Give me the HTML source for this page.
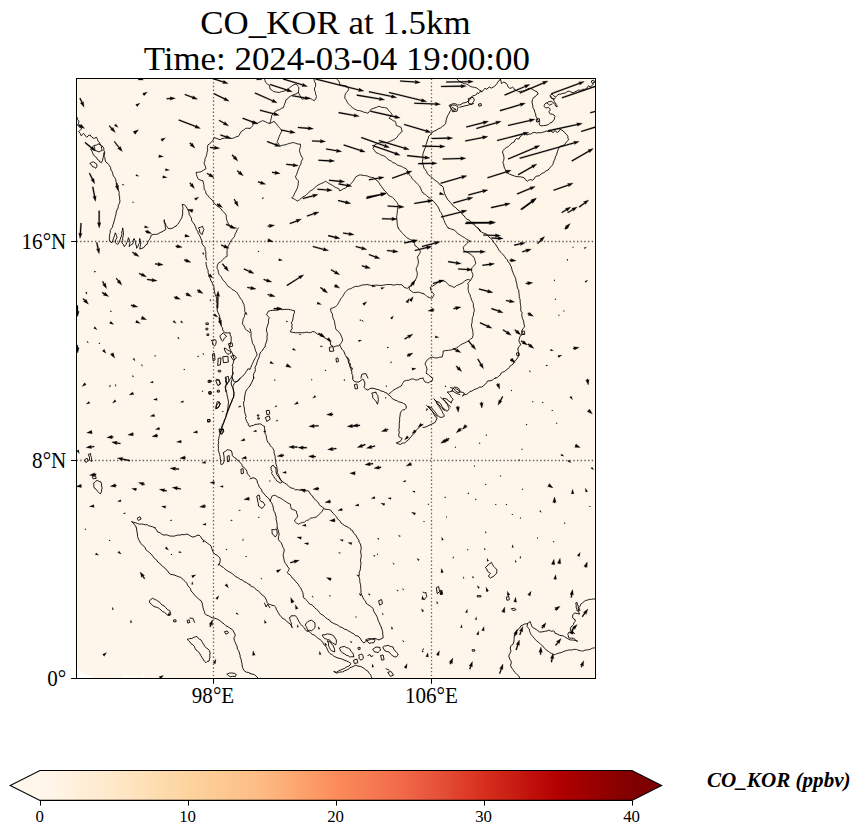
<!DOCTYPE html>
<html><head><meta charset="utf-8"><title>CO_KOR at 1.5km</title>
<style>
html,body{margin:0;padding:0;background:#fff;}
body{width:858px;height:836px;overflow:hidden;}
svg{display:block;}
text{font-family:"Liberation Serif","DejaVu Serif",serif;fill:#000;}
.t{font-size:34.2px;text-anchor:middle;}
.yl{font-size:22.2px;text-anchor:end;}
.xl{font-size:22.2px;text-anchor:middle;}
.cl{font-size:16.8px;text-anchor:middle;}
.cb{font-size:20.4px;font-weight:bold;font-style:italic;}
.coast path{fill:none;stroke:#000;stroke-width:0.9;stroke-linejoin:round;stroke-linecap:round;}
.bord path{fill:none;stroke:#000;stroke-width:0.85;stroke-linejoin:round;stroke-linecap:round;}
.grid line{stroke:#000;stroke-width:1.3;stroke-dasharray:1.39 2.29;opacity:.62;}
.q path{fill:#000;stroke:#000;stroke-width:0.28;stroke-linejoin:miter;stroke-miterlimit:6;}
.qs path{stroke-width:0.12;}
.tk line{stroke:#000;stroke-width:1.0;}
</style></head><body>
<svg width="858" height="836" viewBox="0 0 858 836">
<defs>
<clipPath id="ax"><rect x="76.5" y="78.5" width="519.0" height="600.0"/></clipPath>
<linearGradient id="cbg" x1="0" x2="1" y1="0" y2="0">
<stop offset="0.0000" stop-color="#fff7ec"/><stop offset="0.0250" stop-color="#fff4e5"/><stop offset="0.0500" stop-color="#fff1de"/><stop offset="0.0750" stop-color="#feeed7"/><stop offset="0.1000" stop-color="#feebd0"/><stop offset="0.1250" stop-color="#fee8c8"/><stop offset="0.1500" stop-color="#fee4c0"/><stop offset="0.1750" stop-color="#fee0b8"/><stop offset="0.2000" stop-color="#fddcaf"/><stop offset="0.2250" stop-color="#fdd8a7"/><stop offset="0.2500" stop-color="#fdd49e"/><stop offset="0.2750" stop-color="#fdcf99"/><stop offset="0.3000" stop-color="#fdca94"/><stop offset="0.3250" stop-color="#fdc58e"/><stop offset="0.3500" stop-color="#fdc089"/><stop offset="0.3750" stop-color="#fdba83"/><stop offset="0.4000" stop-color="#fdb27b"/><stop offset="0.4250" stop-color="#fda973"/><stop offset="0.4500" stop-color="#fc9f6a"/><stop offset="0.4750" stop-color="#fc9662"/><stop offset="0.5000" stop-color="#fc8c59"/><stop offset="0.5250" stop-color="#f98556"/><stop offset="0.5500" stop-color="#f77d52"/><stop offset="0.5750" stop-color="#f4754f"/><stop offset="0.6000" stop-color="#f26d4b"/><stop offset="0.6250" stop-color="#ef6447"/><stop offset="0.6500" stop-color="#ea5a3f"/><stop offset="0.6750" stop-color="#e55038"/><stop offset="0.7000" stop-color="#e0442f"/><stop offset="0.7250" stop-color="#dc3a27"/><stop offset="0.7500" stop-color="#d62f1e"/><stop offset="0.7750" stop-color="#cf2618"/><stop offset="0.8000" stop-color="#c91d13"/><stop offset="0.8250" stop-color="#c1120c"/><stop offset="0.8500" stop-color="#ba0906"/><stop offset="0.8750" stop-color="#b20000"/><stop offset="0.9000" stop-color="#a80000"/><stop offset="0.9250" stop-color="#9e0000"/><stop offset="0.9500" stop-color="#930000"/><stop offset="0.9750" stop-color="#890000"/><stop offset="1.0000" stop-color="#7f0000"/></linearGradient>
<radialGradient id="hz1" cx="0.82" cy="0.2" r="0.35"><stop offset="0" stop-color="#fdeedb" stop-opacity="0.18"/><stop offset="1" stop-color="#fdeedb" stop-opacity="0"/></radialGradient>
</defs>
<rect width="858" height="836" fill="#fff"/>
<text class="t" transform="translate(335.4 33.6) scale(1.02 1)">CO_KOR at 1.5km</text>
<text class="t" transform="translate(336.8 69.6) scale(1.02 1)">Time: 2024-03-04 19:00:00</text>
<rect x="76.5" y="78.5" width="519.0" height="600.0" fill="#fff6eb"/>
<rect x="76.5" y="78.5" width="519.0" height="600.0" fill="url(#hz1)"/>
<path d="M77 669.6L92 678L77 678Z" fill="white"/>
<path d="M123 675.3L138 677.5L123 677.5Z" fill="white"/>
<path d="M142 677.5L143.6 672.2L144.4 672.4L143.2 677.5Z" fill="white"/>
<g class="grid" clip-path="url(#ax)"><line x1="213.5" y1="78.5" x2="213.5" y2="678.5"/><line x1="431.5" y1="78.5" x2="431.5" y2="678.5"/><line x1="76.5" y1="241.5" x2="595.5" y2="241.5"/><line x1="76.5" y1="460.5" x2="595.5" y2="460.5"/></g>
<g class="coast" clip-path="url(#ax)">
<path d="M77.0 117.3L77.7 119.6L79.0 121.3L78.4 123.3L77.6 125.4L79.0 126.4L80.3 127.6L82.0 128.4L80.7 129.7L79.4 130.8"/>
<path d="M78.6 131.6L80.3 133.6L81.1 135.7L82.4 134.8L83.5 133.3L84.6 134.6L85.7 136.2L86.8 137.3L88.0 135.9L90.1 134.9L91.4 136.8L93.3 138.2L94.8 138.1L96.6 137.3L97.5 139.4L98.2 141.4L99.7 142.7L99.9 144.3L101.5 145.5L103.1 146.8L103.9 148.8L103.8 150.5L104.7 152.0L104.6 154.1L103.9 156.1L104.9 157.7L105.1 159.9L105.6 161.8L107.0 162.9L108.5 164.3L109.6 165.9L110.6 167.5L110.9 169.9L112.1 171.6L112.7 173.4L113.3 175.8L114.5 177.3L115.7 179.3L116.0 181.8L117.0 183.8L117.0 186.1L117.7 188.4L118.6 190.4L119.2 192.5L119.0 194.9L119.7 196.9L119.6 199.1L120.0 201.2L119.4 203.4L118.3 205.4L118.1 207.9L117.0 209.9L116.2 212.1L116.0 214.3L115.3 216.5L114.8 218.8L114.2 220.8L113.7 223.0L113.0 224.7L112.5 227.1L111.3 228.7L110.2 230.5L110.3 232.4L109.6 234.4L109.6 236.8L109.3 238.8L109.6 240.9L110.5 242.0L112.1 242.6L113.0 239.9L113.7 237.7L114.6 235.3L115.3 232.8L116.4 235.2L117.0 237.7L115.7 239.8L115.3 242.6L116.5 243.7L117.8 244.2L119.0 242.7L119.7 241.1L120.2 239.3L121.1 236.9L121.9 234.4L121.7 232.0L122.5 230.2L122.7 227.9L123.0 230.1L123.4 232.2L123.5 234.4L123.0 236.5L122.6 238.5L122.8 240.5L121.9 242.6L123.4 244.5L124.3 246.7L125.9 244.7L126.8 242.6L127.9 240.1L128.4 237.7L129.5 240.2L130.0 242.6L129.5 244.4L129.2 246.7L130.4 245.1L132.5 244.2L133.3 242.5L133.2 240.2L134.1 238.5L134.8 240.2L135.6 242.2L135.7 244.2L136.5 246.1L136.6 248.3L137.8 246.5L138.6 244.4L139.8 242.6L139.3 240.6L139.8 238.5L140.2 240.3L140.8 242.4L140.6 244.2L140.2 246.5L139.8 249.1L142.0 248.3L143.9 247.5L145.0 245.6L147.2 244.2L147.7 242.3L148.5 240.7L149.6 239.3L150.6 237.3L151.2 235.2L153.0 234.5L154.5 234.4L156.6 234.3L158.6 233.6L160.1 232.5L161.8 232.0L163.9 230.6L165.9 229.5L165.3 227.1L165.1 224.6L164.2 222.4L164.3 219.7L164.4 221.9L165.6 223.6L165.9 225.4L167.4 227.1L168.4 228.7L170.8 228.6L173.3 227.9L174.3 226.7L176.1 226.2L177.3 224.6L178.8 223.0L179.5 221.5L180.6 219.7L181.8 217.8L182.2 216.0L182.7 214.0L182.7 212.2L182.6 210.1L183.1 208.3L182.6 206.4L182.2 204.2L184.7 205.1L186.2 206.5L187.0 208.2L187.9 209.9L189.0 212.2L189.1 214.3L190.4 216.5L191.5 218.2L191.6 220.6L192.8 222.2L194.2 224.0L195.3 226.3L196.0 228.1L196.5 229.7L197.7 231.2L198.2 233.3L199.5 235.2L200.2 236.9L201.0 238.8L201.7 240.4L201.8 242.6L202.5 244.4L203.8 246.0L205.1 247.5L205.0 249.6L205.8 251.7L205.9 254.0L205.8 256.1L206.0 258.3L206.7 260.0"/>
<path d="M94.1 145.5L96.5 145.1L98.2 143.9L100.0 144.6L101.5 146.3L101.5 148.5L102.3 150.4L100.7 151.0L99.0 152.0L97.0 151.1L94.9 150.4L94.7 148.1Z"/>
<path d="M90.9 149.6L92.0 151.1L92.6 152.8L93.3 154.5L94.4 156.0L96.5 157.5L97.4 159.4L98.8 160.2L99.8 162.0L101.5 162.6L102.6 160.3L103.1 157.7L103.6 155.5L103.9 152.8"/>
<path d="M90.1 163.4L91.4 162.5L93.3 161.8L95.0 162.9L96.9 164.3L96.8 166.4L95.8 168.3L94.2 167.1L92.5 166.7L91.6 165.0Z"/>
<path d="M198.6 227.9L200.7 227.2L202.6 226.3L203.1 228.2L203.9 229.5L202.8 232.1L202.3 234.4L200.7 233.6L199.7 232.0L199.6 229.7Z"/>
<path d="M206.0 262.3L206.1 264.5L206.7 266.2L207.0 268.3L208.1 270.3L208.1 272.5L208.7 274.5L209.1 276.4L210.3 278.4L210.8 280.5L212.1 282.4L212.7 284.5L213.8 286.4L214.1 288.5L214.3 290.5L214.8 292.7L215.2 294.6L216.1 296.5L216.8 299.1L216.2 301.4L217.2 303.6L216.8 306.1L217.1 308.6L217.2 310.8L218.1 312.7L219.1 314.7L219.7 316.8L220.1 318.7L220.0 320.8L220.7 322.9L221.2 324.8L221.4 326.7L222.6 327.9L222.6 329.8L223.7 331.3L225.2 332.8L227.5 332.9L230.2 332.8L230.1 334.9L231.2 336.9L231.2 338.7L231.2 340.9L230.6 342.8L230.1 345.2L229.2 347.0L229.9 348.9L230.9 350.9L232.2 353.0L233.1 355.1L233.4 357.0L234.3 359.0L233.7 361.1L233.2 363.4L232.2 365.1L233.0 367.0L232.5 369.1L232.5 371.1L233.2 373.2L232.2 375.6L232.2 378.0"/>
<path d="M232.2 378.0L232.1 379.9L231.4 381.8L231.2 384.0L231.8 386.0L233.0 387.9L233.2 390.1L234.1 392.5L233.9 395.1L233.5 397.4L232.1 399.8L231.6 402.0L230.2 404.2L229.3 406.4L228.7 408.2L227.5 409.9L227.2 412.3L226.1 414.1L226.1 416.3L225.1 418.5L224.2 420.3L223.7 422.5L222.5 424.3L221.9 426.2L221.2 428.4L221.2 430.4L220.0 432.4L219.8 434.5L219.1 436.5L218.9 438.4L218.3 440.5L218.7 442.6L218.1 444.5L218.4 446.7L218.4 448.5L218.3 450.5L219.1 452.6L219.6 454.7L220.2 456.6L220.1 458.6L221.0 460.7L220.5 462.8L221.2 464.7L223.2 463.7L223.9 461.8L224.1 459.6L224.2 457.6L223.8 455.1L223.2 452.6L225.6 451.3L227.2 449.6L229.3 450.1L231.2 450.6L232.2 453.1L232.2 455.6L234.3 457.4L236.3 458.6L237.3 460.2L239.1 461.3L240.3 462.7L241.8 464.4L242.3 466.7L243.9 467.3L245.3 468.7L246.5 470.3L247.0 471.8L247.4 473.8L248.9 475.3L250.0 476.8"/>
<path d="M226.2 378.0L226.4 380.2L226.4 382.1L226.4 384.0L225.8 386.1L225.6 388.5L226.3 391.1L226.9 393.6L227.2 396.1L227.8 398.3L228.1 400.0L228.5 402.0L228.2 404.2L228.0 406.4L227.9 408.1L227.7 410.5L227.2 412.3"/>
<path d="M240.3 378.0L238.3 381.0L234.3 382.0L232.2 378.0"/>
<path d="M250.0 386.1L248.7 387.3L247.6 388.6L246.4 390.1L245.5 392.2L245.2 393.9L244.8 396.1L244.3 398.2L244.5 400.4L243.6 402.0L243.6 404.2L243.9 406.2L244.4 408.1L244.4 410.3L244.8 412.4L245.3 414.3L246.1 416.4L245.5 418.6L246.4 420.3L246.8 421.9L248.1 423.3L248.4 425.4L250.0 426.4"/>
<path d="M216.1 408.2L216.6 406.2L217.1 404.2L218.5 403.3L219.1 401.8L219.6 403.0L220.1 404.2L219.4 406.2L218.1 407.8Z"/>
<path d="M220.1 430.0L223.2 428.8L223.8 432.0L221.2 434.0Z"/>
<path d="M216.1 380.4L219.1 379.6L220.5 384.0L218.1 385.3Z"/>
<path d="M208.5 380.4L210.1 380.4L210.1 382.4L208.5 382.4Z"/>
<path d="M209.3 391.7L210.9 391.7L210.9 393.7L209.3 393.7Z"/>
<path d="M208.2 419.5L209.9 419.5L209.9 421.5L208.2 421.5Z"/>
<path d="M227.6 456.2L229.2 455.6L229.4 461.1L227.8 461.7Z"/>
<path d="M241.3 469.1L243.1 468.7L243.5 473.2L241.7 473.8Z"/>
<path d="M84.7 459.7L87.1 458.2L88.1 460.7L86.1 462.3Z"/>
<path d="M88.7 454.2L90.7 453.6L90.7 455.8L91.5 457.6L91.6 459.6L92.1 461.1L90.7 460.9L89.5 460.3L89.7 458.0L89.1 456.4Z"/>
<path d="M94.1 482.8L95.5 481.3L97.2 480.4L98.9 481.3L100.8 481.8L101.6 483.9L101.4 485.9L102.2 487.9L101.6 489.8L101.4 492.0L100.2 493.9L98.9 492.5L97.2 490.9L96.0 489.2L94.1 487.9L93.8 485.6Z"/>
<path d="M92.7 476.4L95.5 475.6L96.2 478.4L93.5 478.8Z"/>
<path d="M136.3 528.0L135.7 526.0L134.5 524.8L133.4 523.0L131.4 521.5L133.4 522.2L135.5 522.8L137.3 523.4L139.5 524.2L141.5 524.0L143.5 524.3L145.5 524.8L147.2 524.7L148.8 525.9L150.6 526.2L152.4 526.8L153.8 527.2L155.6 528.0"/>
<path d="M137.5 518.1L139.9 516.7L141.1 519.1L138.7 520.3Z"/>
<path d="M233.7 396.4L227.9 411.4L222.6 426.1L220.7 432.6"/>
<path d="M219.4 429.0L223.4 429.6L221.8 434.2L219.9 432.6Z"/>
<path d="M254.0 377.4L252.0 382.0L249.7 386.2"/>
<path d="M232.7 372.2L232.6 374.6L231.6 377.1L230.4 378.6L229.2 380.4L228.3 382.2L226.7 383.6L226.0 385.2L225.1 386.9L225.6 389.5L225.9 391.8"/>
<path d="M220.2 335.5L221.8 334.2L223.4 332.7L224.7 334.7L226.7 336.3L225.5 337.2L224.3 338.3L223.4 340.0L222.6 341.2L221.5 340.2L221.0 338.8L220.3 337.3Z"/>
<path d="M211.5 340.4L213.3 340.0L215.3 339.6L216.2 341.2L216.1 342.8L215.6 344.5L214.5 346.1L213.4 345.2L212.5 344.1L212.6 342.2Z"/>
<path d="M224.6 348.1L226.2 348.6L227.5 350.2L229.3 350.9L230.8 351.8L230.4 353.1L229.2 354.3L227.3 353.7L225.9 352.6L224.8 350.4Z"/>
<path d="M228.8 343.7L232.1 342.8L232.7 346.1L230.0 346.9Z"/>
<path d="M223.1 356.7L227.9 356.2L228.3 362.1L223.9 362.7Z"/>
<path d="M218.6 358.3L221.0 357.9L220.3 364.9L218.1 365.4Z"/>
<path d="M231.1 356.2L234.1 355.1L236.5 357.9L233.7 360.0Z"/>
<path d="M212.8 353.9L214.5 353.4L215.0 360.0L213.5 360.8Z"/>
<path d="M225.6 377.1L226.8 376.9L228.3 376.3L228.6 378.9L229.2 381.2L227.9 382.6L227.2 384.4L226.5 383.2L225.6 382.0L225.6 379.7Z"/>
<path d="M216.1 379.1L219.0 380.4L220.2 384.0L218.6 385.6"/>
<path d="M217.7 401.6L219.1 402.1L220.2 403.2L219.4 405.4L218.1 407.3L216.8 408.1L215.8 408.9L215.8 406.9L216.4 404.8L216.8 403.0Z"/>
<path d="M209.3 391.8L211.2 391.8L211.2 394.2L209.3 394.2Z"/>
<path d="M207.9 419.5L209.9 419.5L209.9 422.0L207.9 422.0Z"/>
<path d="M217.7 390.2L219.4 390.2L219.4 392.1L217.7 392.1Z"/>
<path d="M218.6 370.3L220.7 370.3L220.7 371.9L218.6 371.9Z"/>
<path d="M209.6 380.4L211.2 380.4L211.2 382.0L209.6 382.0Z"/>
<path d="M206.3 322.9L208.3 322.9L208.3 324.6L206.3 324.6Z"/>
<path d="M207.3 333.9L208.8 333.9L208.8 335.5L207.3 335.5Z"/>
<path d="M206.3 328.2L207.9 328.2L207.9 329.8L206.3 329.8Z"/>
<path d="M136.5 528.0L136.7 529.9L136.9 532.0L137.5 534.0L137.5 536.5L138.5 539.1L139.5 541.1L140.8 543.5L142.5 545.1L144.2 546.4L145.3 548.0L145.9 549.8L147.6 551.2L149.2 552.3L150.9 553.9L152.2 555.3L153.6 557.2L154.9 558.8L156.7 560.1L157.8 562.0L159.7 563.3L161.2 565.0L162.6 566.3L164.5 567.6L165.7 569.3L167.6 570.7L168.9 573.0L170.8 574.4L172.8 574.7L174.8 575.2L176.8 576.0L178.3 576.7L180.2 577.1L181.8 578.4L183.7 580.0L185.3 581.6L186.9 583.4L187.7 585.5L189.1 587.1L190.4 588.5L190.9 590.5L192.0 592.1L193.4 593.4L194.4 595.1L196.0 596.5L197.7 598.0L199.2 599.6L201.0 600.6L202.0 602.7L202.6 605.4L203.0 607.6L203.6 609.8L204.4 611.7L205.0 613.7L206.4 615.1L208.5 615.7L210.1 616.7L212.1 617.8L213.9 618.0L216.1 618.7L218.2 619.6L220.5 621.0L222.2 622.8L224.1 623.9L226.0 625.8L228.2 626.8L230.0 628.2L231.8 629.1L233.2 630.8L234.2 632.9L235.3 634.9L234.8 636.6L233.9 637.9L234.4 640.6L235.3 642.5L236.3 644.9L237.2 646.7L237.3 649.1L238.7 650.7L239.3 653.0L240.1 655.2L240.1 656.9L241.1 659.2L241.3 661.1L242.0 663.1L242.1 665.0L242.5 667.4L243.3 669.1L244.4 670.9L246.4 672.2L248.2 672.4L250.0 673.2"/>
<path d="M154.6 528.0L156.5 529.7L157.6 532.0L160.0 532.7L161.5 534.0L163.7 535.1L165.9 534.8L167.9 535.2L169.7 536.0L171.8 536.1L173.9 536.2L175.8 535.6L177.6 535.1L179.8 535.1L182.1 534.6L184.5 534.7L186.9 534.0L189.1 535.0L190.9 536.2L192.9 537.1L195.2 536.5L197.0 535.4L199.0 535.1L200.8 536.7L202.0 539.1L203.9 540.6L206.0 542.1L207.6 543.4L209.5 544.6L211.1 546.1L211.7 548.3L212.4 550.1L213.1 552.2L214.9 554.2L217.1 555.2L218.6 556.8L220.1 558.2L220.2 560.2L219.9 562.5L219.1 564.3L220.8 566.0L223.2 567.3L224.7 568.8L226.4 570.1L228.2 571.3L230.2 572.4L232.4 573.7L234.3 575.4L236.0 576.8L238.5 578.1L240.3 579.4L242.5 580.0L244.2 581.8L246.4 582.4L248.0 583.9L250.0 584.5"/>
<path d="M149.6 600.6L151.0 599.4L152.6 598.2L154.5 599.3L156.6 600.2L158.2 601.4L159.6 602.1L160.7 603.6L162.1 605.0L164.4 606.1L165.7 607.6L167.3 609.5L169.7 610.7L170.6 612.8L170.8 614.7L169.2 615.1L167.7 615.1L166.1 613.8L164.5 612.3L162.7 611.7L161.0 610.1L159.5 608.7L157.6 607.6L156.0 607.1L154.0 606.5L152.6 605.6L151.6 604.3L150.0 603.0Z"/>
<path d="M187.5 639.3L189.7 638.6L191.9 638.5L193.6 637.4L195.2 636.9L197.0 636.5L198.0 637.9L199.4 639.2L201.0 639.9L202.0 641.7L202.9 643.3L204.0 644.9L204.9 646.6L206.4 648.1L208.0 649.0L209.5 650.7L210.1 653.0L209.8 655.2L209.9 657.1L209.4 659.2L209.1 661.1L207.2 661.5L206.0 662.7L204.2 661.0L203.0 659.0L201.9 657.3L200.9 655.6L200.0 654.0L198.9 652.2L197.5 651.0L196.0 650.0L195.1 648.4L194.4 646.4L192.9 644.9L191.1 643.8L189.9 641.9L188.7 640.8Z"/>
<path d="M187.5 620.3L189.1 619.9L189.9 622.4L188.1 623.0Z"/>
<path d="M189.9 618.1L192.9 618.3L194.5 622.4"/>
<path d="M224.8 631.6L227.2 631.0L228.6 632.8L226.2 634.0Z"/>
<path d="M227.2 674.0L229.6 673.0L231.8 673.0L234.3 673.3L236.3 674.4L235.3 676.6L232.6 676.3L230.2 676.8L228.6 675.6Z"/>
<path d="M174.0 619.9L176.0 619.9L176.0 621.8L174.0 621.8Z"/>
<path d="M253.6 378.0L253.4 375.7L253.7 373.6L255.0 371.6L255.3 369.3L255.0 367.1L256.2 365.1L257.0 362.5L257.7 360.1L258.9 357.8L259.5 355.4L260.1 353.0L261.5 351.4L262.7 350.0L263.6 348.2L265.1 347.0L265.3 344.8L266.1 342.8L266.7 341.0L267.1 338.9L267.0 336.5L267.4 333.7L266.6 331.5L266.5 328.8L267.2 326.7L267.9 324.6L268.5 322.8L268.4 320.2L269.2 317.7L268.0 316.3L266.5 314.7L267.5 312.8L268.5 311.1L270.6 310.6L272.2 310.4L274.2 310.3L276.1 310.2L278.1 309.9L280.3 309.3L282.3 309.7L284.1 309.4L286.3 309.4L288.4 309.3L290.3 309.7L292.5 310.4L294.4 310.7L294.5 312.7L293.5 314.8L293.3 316.7L292.9 319.0L292.5 320.9L291.3 322.8L292.2 324.5L291.8 326.8L292.3 328.8L290.8 330.2L290.3 331.8L292.9 332.3L295.4 332.8L297.6 332.7L300.2 332.7L302.4 332.8L304.6 332.6L306.3 332.2L308.5 332.4L310.4 332.8L312.6 331.6L314.5 331.8L316.2 333.2L317.5 334.1L319.6 334.9L321.2 336.0L323.1 336.7L324.6 337.9L326.3 338.7L328.0 339.8L329.6 340.9L330.5 342.9L330.6 344.9L332.2 345.8L333.7 347.0L335.2 346.4L336.7 345.9L338.5 345.9L339.7 344.9L340.6 346.8L341.7 349.0L343.2 350.5L344.2 352.0L344.8 354.0L345.6 355.5L346.7 357.6L347.8 359.0L348.3 361.2L348.9 363.2L349.8 365.1L350.9 366.7L350.9 369.3L351.8 371.1L351.8 373.6L352.7 375.5L352.8 378.0"/>
<path d="M329.6 347.4L332.7 346.5L333.9 351.0L330.2 351.4Z"/>
<path d="M336.3 358.4L337.9 358.0L338.5 361.5L336.9 362.1Z"/>
<path d="M347.2 357.0L348.4 358.5L349.2 360.1L349.0 361.6L348.4 362.7L349.6 363.3L350.8 364.1L349.8 365.6L349.8 367.1L351.0 368.0L352.4 368.1L352.1 369.5L351.2 370.7"/>
<path d="M360.9 378.0L361.9 374.2L365.9 373.6L367.9 378.0"/>
<path d="M352.8 378.0L352.8 379.5L353.8 381.0L356.1 382.0L358.9 382.0L361.0 380.4L362.9 379.0L364.1 381.0L364.9 383.0L364.7 385.3L363.9 387.1L365.5 388.9L367.9 390.1L369.8 388.7L372.0 388.1L374.1 388.6L376.0 389.1L377.8 389.6L379.4 390.0L381.0 391.1L383.2 391.3L385.1 392.5L387.1 393.1L388.0 394.7L389.9 395.7L391.1 397.2L392.8 399.0L395.2 400.2L396.9 400.6L398.4 401.7L400.2 402.2L402.1 402.6L403.6 403.6L405.2 404.2L406.2 406.0L406.2 408.2L404.8 409.6L402.5 410.0L401.2 411.3L400.3 413.5L400.0 416.1L399.6 418.3L399.7 420.8L399.2 423.3L399.3 425.8L399.2 428.4L398.7 430.4L399.4 432.2L398.7 434.3L398.8 436.5L400.3 437.6L402.2 438.5L401.2 439.9L400.2 441.5L398.3 442.0L396.2 442.9L398.3 443.7L400.2 444.5L402.3 443.2L404.7 442.9L406.2 441.5L408.4 440.0L409.8 438.1L411.3 436.5L412.4 434.9L414.5 433.3L415.3 431.4L416.4 429.9L417.9 428.5L419.4 427.4L421.0 425.5L423.0 424.4"/>
<path d="M372.0 393.1L373.9 392.6L376.0 392.1L376.3 394.0L377.8 395.4L378.0 397.2L378.3 399.4L378.1 402.0L377.4 404.2L376.5 402.0L375.0 400.2L373.5 398.7L372.6 397.2L372.7 395.2Z"/>
<path d="M354.8 384.5L356.9 384.0L357.7 388.5L355.6 388.9Z"/>
<path d="M250.0 426.4L251.6 425.7L253.5 425.4L255.0 424.4L257.1 424.3L259.1 423.9L261.1 424.0L262.4 425.4L264.5 426.4L264.6 428.6L264.8 431.2L265.1 433.4L266.2 435.5L266.5 438.3L267.1 440.5L267.9 442.5L269.5 443.6L270.2 445.5L271.6 447.1L273.2 448.6L274.0 450.7L274.0 452.6L274.7 454.7L275.2 456.6L275.2 458.8L275.9 460.8L275.7 462.6L276.2 464.7L276.8 466.6L277.0 468.9L277.5 470.8L277.2 472.8L278.6 474.7L279.2 476.6L280.2 478.8L281.2 480.5L282.5 481.8L284.3 482.8L286.2 484.0L287.9 485.3L289.3 486.9L291.3 488.1L293.7 488.4L295.4 489.9L297.7 489.6L300.2 490.3L302.4 489.9L304.3 489.8L306.4 490.8L308.5 490.9L309.7 492.8L310.8 494.7L312.5 495.9L313.5 498.1L315.1 499.3L316.5 501.0L318.3 502.5L319.2 504.3L320.6 506.0L322.7 507.3L324.6 509.0L326.7 509.4L328.5 509.5L330.6 510.1L332.0 512.0L333.4 513.6L334.7 515.1L336.4 516.7L337.2 518.3L338.7 520.1L340.4 521.3L341.0 523.0L342.7 524.2L344.8 525.7L347.0 526.6L348.8 528.0"/>
<path d="M265.7 417.3L269.2 415.9L270.2 419.3L267.1 421.3Z"/>
<path d="M266.5 410.7L269.2 410.3L269.8 413.9L267.3 414.7Z"/>
<path d="M257.7 414.9L258.9 414.9L258.9 416.1L257.7 416.1Z"/>
<path d="M258.1 417.9L259.3 417.9L259.3 419.1L258.1 419.1Z"/>
<path d="M271.2 466.7L273.2 465.1L274.1 466.7L275.8 467.7L276.0 470.1L276.2 472.8L276.7 474.6L278.1 476.3L279.2 477.8L280.5 479.9L282.3 481.8L280.2 483.2L278.8 482.2L277.3 481.4L276.2 479.8L274.7 478.2L273.8 476.6L272.6 474.8L271.6 473.3L272.2 471.5L271.2 469.7L271.1 468.1Z"/>
<path d="M250.0 478.8L252.0 478.1L254.0 477.8L256.1 479.1L257.1 480.8L257.5 483.2L258.6 484.6L259.1 486.9L260.4 488.2L261.6 490.0L262.1 491.9L264.0 493.6L265.2 495.4L267.1 497.0L268.9 498.7L270.2 501.0L271.7 502.8L272.4 504.7L273.2 507.0L273.4 509.2L274.1 511.4L275.2 513.1L275.4 515.0L276.3 516.9L276.0 519.2L276.6 521.1L277.0 523.2L277.2 525.7L277.2 528.0"/>
<path d="M257.1 495.9L259.1 494.9L259.8 497.4L259.7 500.0L261.1 501.4L263.1 502.0L264.0 503.5L265.1 505.0L263.4 506.7L262.1 508.6L260.2 507.1L258.5 506.0L258.3 503.5L257.7 501.0L257.2 498.4Z"/>
<path d="M277.2 528.0L278.1 529.9L278.5 532.0L279.2 534.0L278.6 536.5L278.2 539.1L279.5 541.0L281.2 542.8L282.3 545.1L282.6 546.7L283.7 548.4L284.3 550.2L283.9 552.2L283.2 554.3L283.3 556.2L283.8 558.5L284.3 561.2L285.3 563.3L286.7 565.0L287.8 567.1L289.3 568.3L288.6 570.4L287.3 572.4L288.3 573.9L290.0 574.7L291.3 576.4L292.4 578.2L294.3 579.6L295.4 581.4L297.1 582.9L298.5 584.7L299.4 586.5L300.8 588.1L301.8 590.6L302.8 592.5L303.2 595.1L303.4 597.6L305.4 599.1L307.0 600.7L308.5 602.6L309.7 604.1L311.9 604.8L313.3 606.0L314.5 607.6L316.3 609.2L318.3 610.8L319.6 612.7L320.9 614.2L322.7 615.0L324.2 616.2L325.6 617.7L327.5 619.0L329.5 620.0L330.7 621.9L332.7 622.8L334.2 623.7L336.2 624.4L338.3 625.5L339.7 626.8L342.3 627.5L344.3 629.1L346.8 629.8L348.5 631.0L350.3 632.0L351.9 632.9L353.8 633.8L355.4 635.6L358.0 636.1L359.9 637.9L361.1 639.9L362.0 641.4L363.9 642.9L365.6 641.7L367.0 640.6L369.0 639.9L370.6 639.5L372.2 638.7L374.0 638.5L375.9 638.6L377.2 639.4L379.0 639.9L381.0 638.9L383.1 637.9L383.1 636.0L382.7 634.0L382.7 631.8L381.9 629.4L381.2 627.0L380.0 624.8L379.3 622.7L378.3 620.8L377.7 618.8L377.0 616.7L376.0 614.9L374.7 612.8L373.6 610.9L373.0 608.6L371.5 607.0L369.9 605.8L367.9 604.6L366.2 603.3L365.5 601.1L363.9 599.6L362.7 597.1L361.7 594.8L360.9 592.5L361.0 590.6L360.8 588.4L360.7 586.4L360.5 584.5L359.9 582.4L359.8 580.3L359.5 578.3L358.9 576.4L359.3 574.5L359.2 572.3L360.1 570.4L360.5 568.3L360.6 565.6L361.1 563.1L360.4 560.9L360.9 558.2L361.4 555.6L360.8 553.1L360.7 550.7L361.3 548.2L360.8 546.1L360.5 544.1L359.1 542.2L358.9 540.1L357.3 538.1L356.4 536.1L354.8 534.0L353.4 532.9L352.8 530.8L350.8 529.8L349.8 528.0"/>
<path d="M272.2 529.6L274.3 529.7L276.2 529.0L277.1 531.3L277.2 534.0L276.3 535.8L275.2 537.1L274.1 535.3L272.2 534.0L272.1 531.8Z"/>
<path d="M250.0 585.5L251.7 586.4L253.7 587.1L255.0 588.5L256.7 590.0L258.5 591.2L260.1 592.5L261.5 594.6L263.7 595.9L265.1 597.6L265.9 599.0L266.7 600.8L267.1 602.6L268.4 603.9L270.2 604.6L272.0 605.3L274.2 605.6L275.8 607.2L276.1 609.0L277.2 610.7L278.3 612.7L279.5 614.9L281.2 616.7L282.5 618.4L284.6 619.3L286.3 620.7L287.7 622.4L289.9 623.7L291.3 625.8L292.3 627.8L291.3 625.2L291.3 622.8L290.3 621.3L290.1 619.5L289.3 617.7L290.6 617.1L291.3 615.7L293.2 615.8L295.4 615.7L296.9 617.6L298.0 619.7L299.0 621.6L300.0 623.5L301.4 624.8L302.7 626.3L304.5 628.0L305.4 629.8L306.9 631.3L309.0 631.3L310.5 632.8L312.2 634.3L314.6 635.3L316.5 636.9L318.2 638.5L319.9 639.4L321.6 640.9L322.9 642.6L323.7 644.5L325.6 645.9L326.7 647.8L327.7 650.1L328.6 652.0L330.1 653.6L332.1 654.6L333.7 656.0L335.9 657.2L338.0 658.1L340.7 658.6L342.9 659.5L344.9 660.4L346.8 661.1L349.1 662.2L350.8 663.5L350.1 665.0L348.8 666.1L346.5 667.0L344.7 668.3L342.7 669.1L340.6 670.0L338.6 670.8L336.7 672.2L335.0 672.0L333.7 671.5L335.1 672.1L336.7 673.2L338.6 672.3L340.6 672.0L342.7 671.9L344.8 670.7L346.6 670.1L348.6 669.2L349.7 667.8L351.8 667.1L354.0 666.1L355.8 665.1L357.8 666.1L360.2 666.3L361.9 667.1L364.1 668.4L365.8 669.9L367.9 671.1L369.3 673.4L371.0 675.2L371.1 676.7L372.0 678.0"/>
<path d="M305.4 624.8L306.4 623.0L307.5 621.8L309.3 620.8L311.5 620.3L313.2 621.4L314.9 622.8L315.1 625.4L314.9 627.8L313.4 629.2L311.5 630.8L309.6 630.3L307.5 630.4L307.2 628.6L306.3 626.6Z"/>
<path d="M322.6 634.9L325.1 634.7L327.6 633.8L329.9 634.3L331.8 634.8L333.7 635.9L335.0 638.0L336.3 639.9L336.4 642.5L335.7 644.9L334.0 643.8L332.7 642.9L330.6 641.6L329.6 639.9L327.7 639.7L326.1 638.9L324.6 638.5L323.3 636.9Z"/>
<path d="M327.6 640.9L328.9 641.7L330.6 641.9L331.3 643.9L332.9 645.1L333.7 647.0L334.6 649.2L334.7 652.0L333.1 651.3L331.7 651.0L330.3 649.4L329.5 647.7L328.6 645.9L328.5 643.5Z"/>
<path d="M339.7 648.0L341.2 647.1L342.9 646.7L344.8 646.5L346.2 647.5L348.1 648.0L349.8 649.0L350.9 651.3L352.8 653.0L353.5 654.9L353.8 657.0L351.9 656.7L349.8 657.0L348.3 655.8L346.2 655.2L344.8 654.0L342.3 652.8L340.7 651.0L340.0 649.4Z"/>
<path d="M353.8 660.1L356.9 659.0L357.9 662.7L354.8 663.5Z"/>
<path d="M373.0 649.0L374.5 648.0L376.0 647.0L378.0 647.2L380.0 647.4L380.0 648.6L380.6 650.0L379.3 651.4L378.0 652.6L376.2 652.1L374.6 652.0L373.6 650.6Z"/>
<path d="M383.1 647.0L384.6 646.0L386.6 645.8L388.1 645.3L389.8 646.2L391.3 646.6L393.1 647.0L393.7 649.1L395.2 651.0L396.5 652.4L398.2 654.0L397.3 655.8L396.2 657.0L394.2 656.7L392.1 655.4L390.5 653.9L389.1 652.0L387.1 651.5L385.1 651.0L383.9 649.3Z"/>
<path d="M358.9 655.0L360.5 654.5L361.9 654.0L363.0 655.8L363.3 658.0L362.4 659.5L360.9 660.1L359.7 659.3L358.9 658.0L359.2 656.7Z"/>
<path d="M367.9 655.4L370.0 654.6L371.0 656.6L373.0 655.8"/>
<path d="M381.0 655.4L383.1 655.0L384.1 659.5L382.1 660.1Z"/>
<path d="M358.5 647.4L360.1 647.4L360.1 649.4L358.5 649.4Z"/>
<path d="M365.9 639.9L367.7 638.9L370.0 638.5L372.4 639.3L375.0 639.3L374.7 640.9L374.0 642.5L371.5 642.9L369.0 643.3L367.7 641.6Z"/>
<path d="M388.1 672.2L391.1 671.5L393.5 675.2L390.7 676.2Z"/>
<path d="M386.1 668.7L389.1 670.1"/>
<path d="M379.0 600.6L381.5 599.6L382.5 603.6L380.0 605.0Z"/>
<path d="M250.0 673.6L254.4 674.6L258.1 678.0"/>
<path d="M264.5 603.0L266.1 607.0L267.7 604.2L269.8 607.8"/>
<path d="M502.8 151.1L502.7 153.1L503.5 154.9L503.9 156.8L504.0 158.7L503.6 160.5L502.8 162.5L503.7 164.1L503.9 166.2L504.6 168.2L505.4 169.8L506.1 171.6L507.4 172.8L509.6 174.2L511.9 175.1L514.3 175.9L516.2 176.6L518.8 176.7L520.6 176.9L522.8 177.3L524.5 178.0L525.5 179.8L527.5 181.2L528.6 180.2L529.7 179.9L531.0 179.6L532.5 180.3L533.9 179.2L534.8 177.4L536.9 176.0L539.3 175.8L541.2 173.9L542.4 173.1L543.9 172.8L545.8 171.0L548.2 170.0L549.6 168.2L551.2 166.4L552.6 164.8L553.2 163.5L553.5 162.1L554.3 160.3L555.1 158.8L555.3 156.8L556.6 154.9L557.0 153.0L557.6 151.1L558.6 148.5L559.9 146.5L561.1 146.0L562.6 145.6L564.5 144.7L565.6 143.1L566.9 141.5L568.6 139.7L567.8 137.8L567.9 136.3L566.7 134.6L564.7 132.8L563.3 131.0L561.7 130.0L559.9 129.4L559.0 131.2L557.6 132.4L556.3 132.0L555.3 130.5L554.1 131.4L553.0 132.8L552.3 131.6L550.8 131.2L548.5 131.6L546.2 131.0L544.2 131.9L542.5 132.3L540.5 132.8L538.7 132.6L536.8 133.1L534.8 132.4L532.8 132.7L530.9 134.0L529.1 134.0L526.8 135.1L525.7 133.9L524.5 132.8L522.9 134.5L521.7 135.5L519.9 136.9L518.8 139.2L516.5 138.5L515.0 140.0L514.2 142.0L512.5 142.7L511.0 143.7L509.6 145.4L508.4 146.5L506.5 147.5L505.1 148.4L503.9 149.7Z"/>
<path d="M500.5 79.1L501.0 81.3L501.6 83.7L502.6 82.7L503.9 82.1L506.0 83.1L507.4 84.9L508.1 86.8L509.6 88.3L511.3 88.0L512.4 87.1L513.6 87.8L514.2 89.4L516.7 90.6L518.8 91.7L520.8 91.2L522.4 91.2L524.5 90.6L526.8 89.4L529.1 88.3L530.7 88.4L532.5 89.4L534.6 90.7L537.0 91.7L538.2 94.0L536.6 94.9L535.5 96.6L533.6 97.4L532.5 99.5L532.0 102.0L532.3 104.0L532.9 105.9L532.9 107.7L534.3 109.8L534.8 112.3L535.7 113.9L535.8 116.1L537.0 118.0L537.9 120.4L539.3 122.5L539.2 124.1L540.0 125.1"/>
<path d="M536.6 119.1L539.3 118.7L539.8 121.4L537.0 121.9Z"/>
<path d="M432.0 132.4L434.4 131.0L436.5 130.1L438.3 128.8L440.6 127.9L442.3 126.4L443.9 125.4L445.7 123.7L445.9 121.8L446.2 119.9L446.8 118.0L447.7 115.6L449.1 113.4L449.8 111.4L451.4 110.0L450.7 107.5L449.1 105.4L451.4 104.3L453.7 103.6L455.8 103.9L457.5 104.9L459.4 105.0L461.1 104.3L463.0 103.0L465.1 102.7L466.9 102.1L468.5 100.8L470.1 99.4L470.8 97.4L472.9 95.9L475.4 95.1L476.6 94.4L477.2 92.8L478.8 93.5L480.0 92.2L480.4 90.6L482.2 91.7L483.5 89.7L485.0 88.3L486.8 89.4L487.9 88.0L489.5 87.1L491.4 88.1L492.9 87.3L494.6 86.3L495.9 84.9L497.2 83.2L498.2 81.4L500.0 79.8L500.5 79.1"/>
<path d="M450.3 105.9L452.6 105.1L454.8 105.0L456.7 106.1L458.2 107.2L457.4 109.1L457.1 111.1L455.0 111.4L452.5 111.8L452.1 109.5L450.9 108.1Z"/>
<path d="M452.1 107.2L456.0 109.5L453.0 110.4"/>
<path d="M468.5 98.6L470.7 97.9L473.1 97.4L474.0 98.9L474.2 100.8L472.9 102.3L472.0 104.3L470.1 103.8L468.5 103.1L468.6 100.6Z"/>
<path d="M459.8 107.2L468.5 105.0L473.5 103.6"/>
<path d="M478.8 104.0L481.1 103.6L481.5 105.6L479.3 106.1Z"/>
<path d="M432.0 132.4L430.5 134.6L428.6 136.2L428.3 138.3L427.4 140.0L427.0 142.0L426.1 144.2L425.9 146.7L424.7 148.8L423.9 151.1L423.0 153.4L422.8 155.7L422.8 157.5L422.9 159.6L422.4 161.4L422.7 163.7L423.5 165.9L424.0 168.2L425.4 169.8L426.6 171.5L427.3 173.5L428.6 175.1L430.5 176.3L432.5 178.0L434.3 179.6L435.9 180.9L437.3 181.8L438.8 183.1L439.9 184.8L442.1 185.9L443.4 187.6L443.6 189.5L444.1 191.4L444.5 193.3L445.6 195.9L446.8 197.9L447.7 199.7L449.3 201.1L450.3 202.5L451.8 203.9L452.9 205.7L454.7 206.8L456.0 208.2L457.9 209.9L459.7 211.4L461.7 212.8L462.4 214.6L464.2 215.9L465.1 217.3L466.6 219.1L469.3 220.1L470.8 221.9L472.2 223.6L474.5 224.6L475.5 226.5L477.7 227.6L479.1 229.1L480.4 230.6"/>
<path d="M540.0 125.2L541.7 125.9L543.6 125.6L546.1 125.3L548.4 124.6L549.8 123.2L552.0 122.2L553.1 120.9L554.4 119.2L554.6 117.5L555.0 116.2L554.1 115.1L552.6 114.4L550.2 113.8L549.2 112.9L549.0 111.4L549.8 110.6L550.2 109.0L548.4 107.2L547.1 107.8L545.4 107.8L544.4 106.8L544.2 105.5L544.8 104.1L546.0 103.1L547.4 102.6L548.4 101.9L550.0 101.5L551.4 101.3L552.6 102.3L553.8 103.1L554.9 104.4L555.6 106.1L557.3 106.7L556.7 105.2L556.1 104.3L555.4 103.0L554.4 101.9L553.8 100.5L553.8 98.9L551.4 98.3L550.4 96.7L550.2 95.3L552.0 94.1L553.8 95.9L555.6 97.1L557.3 95.3L559.1 94.1L560.9 94.2L562.1 93.5L564.0 93.2L565.7 92.9L566.8 91.9L568.1 91.3L569.7 91.3L571.1 92.1L573.5 92.9L574.4 92.0L575.9 91.3L577.2 91.1L578.3 89.9L579.8 90.4L581.3 90.1L582.6 89.3L584.3 89.3L585.9 89.1L586.7 88.1L587.7 86.9L588.4 85.7L590.2 86.9L592.0 85.7L592.8 84.7L593.2 83.3L594.4 82.1L595.3 81.5"/>
<path d="M591.7 80.9L593.6 80.1L594.5 82.1L592.6 83.3Z"/>
<path d="M550.5 95.9L553.2 99.5L555.3 98.0"/>
<path d="M547.2 103.1L549.6 105.2L552.0 104.0"/>
<path d="M477.4 228.0L479.0 229.2L479.8 231.1L481.5 232.0L483.4 233.0L485.9 233.8L487.5 235.1L488.9 236.9L490.9 238.6L492.6 240.1L493.5 242.3L495.3 243.9L496.6 246.1L498.0 248.4L499.0 250.2L500.6 252.2L501.9 253.5L503.4 255.0L504.6 256.4L505.7 258.2L507.2 259.7L508.0 261.8L509.7 263.3L510.2 265.0L511.2 266.5L511.7 268.3L512.2 270.6L513.0 272.6L513.7 274.4L514.7 276.4L515.7 278.7L516.0 281.2L516.8 283.4L517.0 286.0L517.6 288.4L518.8 290.5L518.8 292.7L519.3 294.7L519.1 296.6L519.8 298.6L520.2 300.5L520.2 302.6L520.5 304.6L520.8 306.6L520.8 308.8L520.8 310.9L522.1 312.6L521.8 314.7L522.0 316.8L522.6 318.7L523.5 320.9L523.8 322.8L524.2 325.0L524.8 326.8L522.8 328.7L521.8 330.8L522.3 332.7L523.4 333.8L521.2 335.1L519.8 336.9L519.4 338.9L518.8 340.9L519.9 343.0L520.8 344.9L518.8 346.7L517.8 349.0L518.3 351.3L518.8 354.0L518.5 355.7L517.9 357.3L516.8 359.0L515.6 360.6L513.9 361.6L513.2 364.0L511.7 365.1L510.0 366.1L509.0 367.7L507.7 369.1L506.1 370.2L504.4 371.6L502.6 372.2L500.9 373.3L500.2 375.2L498.6 376.2L497.3 377.6L495.6 378.0"/>
<path d="M522.2 331.2L524.6 331.2L524.6 334.5L522.2 334.5Z"/>
<path d="M516.8 353.0L518.8 352.6L519.4 355.4L517.4 355.8Z"/>
<path d="M423.0 427.4L425.1 427.2L427.0 426.4L429.0 425.4L431.0 424.4L432.9 423.5L435.1 422.4L436.0 420.4L437.1 418.3L435.1 416.5L434.1 414.3L433.0 412.1L431.1 410.3L429.7 408.1L428.0 406.2L430.1 407.2L432.1 408.2L433.2 410.0L434.9 411.5L436.1 413.3L437.2 415.1L438.6 416.2L440.1 417.3L442.5 417.2L444.2 416.3L443.9 414.6L442.8 413.1L442.2 411.3L440.7 409.1L439.5 407.3L438.1 405.2L436.9 403.9L436.3 401.5L435.1 400.2L436.7 401.5L439.1 402.2L440.6 403.9L441.8 406.1L443.2 408.2L445.2 409.7L447.2 411.3L448.3 409.8L449.2 408.2L448.3 406.7L447.6 404.7L446.2 403.2L445.6 401.4L443.7 399.9L443.2 398.2L445.0 398.6L447.2 399.2L448.3 401.0L450.3 401.7L451.2 403.2L451.8 401.1L453.2 399.2L451.3 397.3L450.2 395.1L448.8 393.5L447.2 392.1L449.7 391.8L452.2 391.1L452.7 389.0L454.2 387.1L456.4 387.3L458.3 388.1L459.6 389.7L460.3 392.1L462.2 392.2L464.3 393.1L463.8 394.8L462.3 396.1L464.1 394.8L466.6 394.4L468.4 393.1L469.7 391.7L471.8 391.0L473.6 390.0L475.4 389.1L477.6 388.4L479.3 387.2L481.7 387.0L483.5 385.7L485.3 384.3L486.5 382.8L487.5 381.0L490.0 380.8L492.6 380.0L493.8 378.8L495.6 378.0"/>
<path d="M426.5 405.3L430.6 409.3L434.7 414.2L437.4 416.7"/>
<path d="M433.8 398.7L437.9 403.6L442.0 408.5L444.9 410.5"/>
<path d="M440.7 397.4L444.4 400.7L448.2 404.4L450.5 406.9"/>
<path d="M450.5 387.6L452.3 388.0L454.2 388.9L455.2 390.4L456.7 391.9L458.0 392.3L459.6 392.5L459.2 390.8L458.0 389.8L456.7 389.2L455.4 388.1"/>
<path d="M451.8 390.6L455.9 393.0L459.9 394.7"/>
<path d="M485.5 567.3L487.3 566.0L488.5 564.3L490.0 563.6L491.5 562.3L492.5 564.5L493.6 566.3L495.1 567.8L496.6 569.3L496.9 571.3L496.6 573.4L494.9 574.9L493.6 576.4L492.0 577.1L490.5 578.0L489.3 577.1L488.5 576.0L489.3 574.7L490.5 573.4L489.1 572.3L487.5 571.3L486.8 569.2Z"/>
<path d="M436.7 587.5L438.7 586.5L439.5 591.5L437.5 593.5Z"/>
<path d="M440.3 590.9L442.0 590.5L442.4 594.1L440.7 594.5Z"/>
<path d="M423.0 592.1L424.3 592.8L426.0 592.5L426.2 594.6L427.0 596.5L425.4 597.8L424.6 599.6L423.0 599.0"/>
<path d="M506.7 597.0L508.9 596.5L509.3 599.8L507.3 600.2Z"/>
<path d="M511.7 608.6L514.7 608.2L516.1 609.7L513.3 610.5Z"/>
<path d="M477.4 595.7L480.7 595.5L481.1 596.8L477.8 597.0Z"/>
<path d="M472.4 649.8L474.6 649.6L475.0 651.0L472.8 651.2Z"/>
<path d="M519.7 678.0L518.5 675.7L516.6 674.0L514.6 672.2L513.5 670.3L512.1 668.4L511.0 666.6L510.6 664.9L511.3 662.9L510.9 660.7L509.8 659.2L508.9 657.1L509.1 654.9L510.0 653.1L511.0 651.2L510.3 649.1L510.4 646.8L511.2 645.4L512.9 644.4L513.8 642.0L514.1 639.4L514.2 637.0L514.7 634.5L515.5 632.5L516.8 631.1L517.8 629.5L519.6 628.2L520.9 625.8L522.8 625.0L524.6 624.0L526.2 623.9L527.7 623.4L528.8 622.5L530.2 621.5L530.8 623.5L531.4 625.2L531.9 626.7L533.2 627.7L534.9 628.7L536.3 629.5L537.9 630.7L539.4 632.0L542.1 631.9L544.4 631.4L546.8 631.0L548.7 630.2L550.1 630.5L551.2 631.4L553.6 630.8L554.8 632.0L554.9 633.2L557.1 633.9L559.2 635.1L561.0 635.6L562.9 635.7L564.4 636.6L566.0 637.6L567.5 638.6L569.1 639.4L570.6 640.0L572.2 640.0L574.2 640.2L576.5 640.7L577.7 641.3L576.2 640.8L575.2 639.4L573.6 638.3L571.5 638.2L569.9 638.2L568.5 637.6L568.4 635.8L567.8 634.5L568.3 633.1L569.1 632.0L571.5 632.6L573.4 632.6L574.6 633.5L572.9 632.6L570.9 631.4L570.3 628.9L571.0 627.1L572.2 625.8L573.4 624.6L574.0 622.7L575.1 621.5L575.2 619.7L573.9 619.2L572.8 617.8L572.5 616.1L573.0 614.7L574.6 612.9L577.1 613.5L579.6 614.1L578.9 612.7L578.3 611.6L580.2 610.4L579.3 609.1L579.0 607.3L580.2 606.0L580.8 604.2L582.4 602.9L583.9 601.7L585.4 600.5L587.6 600.1L589.3 599.3L591.3 599.4L593.7 598.9L596.0 599.3"/>
<path d="M575.9 603.0L577.1 602.4L577.3 604.2L578.3 606.1L578.2 608.2L578.7 610.4L577.1 611.0L576.9 609.2L576.2 607.3L576.2 605.1Z"/>
</g>
<g class="bord" clip-path="url(#ax)">
<path d="M250.0 128.4L247.6 128.2L245.3 128.4L243.6 130.2L241.3 131.4L239.8 134.0L238.3 136.5L236.3 136.7L234.3 137.7L232.2 138.5L230.3 138.2L228.3 137.7L226.2 137.5L224.3 138.2L222.0 138.6L220.1 139.7L218.0 139.0L216.0 138.2L214.1 137.5L212.9 140.3L211.1 142.5L209.5 143.8L208.0 144.9L207.3 147.6L207.7 150.2L207.0 152.6L206.7 154.6L206.1 156.7L205.0 158.6L204.9 161.1L204.0 163.1L205.2 165.9L206.0 168.7L203.6 170.1L201.0 171.8L198.6 172.2L196.0 172.4L196.5 174.5L197.2 176.8L198.0 178.8L200.3 180.1L203.0 180.8L203.4 182.8L203.9 184.8L204.0 186.9L204.2 189.2L205.7 191.5L206.0 193.9L207.9 195.3L209.3 197.6L211.1 199.0L212.8 200.8L214.2 203.3L216.1 205.0L217.7 206.3L219.5 207.6L221.2 209.0L222.6 211.2L224.8 213.0L226.2 215.1L226.3 217.3L226.5 219.1L227.2 221.1L228.5 223.9L230.2 226.2L232.2 226.7L234.3 227.5L236.3 228.0"/>
<path d="M238.3 228.0L237.1 229.8L236.3 232.0L235.0 234.1L234.5 236.4L233.2 238.1L231.6 239.9L230.2 242.1L229.3 244.2L228.3 246.2L227.2 248.2L227.1 250.7L227.0 253.6L227.2 256.2L225.2 257.3L223.7 258.9L222.2 260.3L220.3 262.0L218.1 263.3L217.2 265.9L217.1 268.3L218.2 270.3L218.3 272.4L219.1 274.4L220.8 276.3L222.0 278.3L223.2 280.4L225.2 282.2L226.6 284.3L228.2 286.5L230.3 287.5L232.1 289.5L234.3 290.5L236.6 292.2L238.3 294.5L239.4 296.6L240.7 298.9L242.3 300.6L243.0 302.8L243.9 304.4L244.3 306.6L244.8 308.5L244.6 310.6L245.3 312.7L244.8 314.9L244.4 316.7L243.3 318.7L242.8 321.2L242.3 323.8L244.2 326.1L245.3 328.8L246.6 330.3L248.6 331.2L250.0 332.8"/>
<path d="M250.0 369.1L247.9 368.9L246.3 371.4L244.7 373.8L242.9 376.0L240.6 377.9L238.9 379.6L237.3 381.2L235.6 382.4L234.1 383.6L233.5 385.1L232.7 386.9L233.5 389.4L233.7 391.8L233.8 394.1L233.7 396.4"/>
<path d="M264.1 78.0L264.9 80.2L265.7 82.4L267.3 83.9L269.2 85.1L269.7 86.9L270.2 89.1L272.1 90.3L273.8 91.7L276.4 92.0L279.2 92.5L281.6 91.6L284.3 91.1L286.6 90.0L288.4 88.8L290.3 87.1L292.1 85.8L293.8 84.8L296.0 84.0L297.2 85.5L298.8 87.1L298.7 89.6L298.4 92.5L296.0 93.9L293.8 94.7L291.3 95.7L289.2 96.9L287.9 98.6L285.9 99.8L285.2 102.6L284.1 105.3L283.3 107.8L281.3 108.4L279.3 109.8L277.2 110.3L275.3 111.6L273.4 113.3L271.8 115.3L271.2 118.1L270.7 120.8L269.8 123.4"/>
<path d="M298.4 92.5L299.7 94.9L300.8 97.1L302.0 99.2L304.1 98.7L306.5 98.5L308.5 97.8L310.6 98.5L312.5 99.8L314.5 100.6L315.8 98.6L316.5 96.5L315.7 94.4L315.4 92.3L314.5 90.1L314.5 88.1L315.6 86.2L315.7 84.0L314.9 82.2L314.0 80.0L313.7 78.0"/>
<path d="M250.0 128.4L251.6 126.8L253.0 125.4L252.5 123.2L252.0 121.3L254.7 122.5L257.1 123.4L258.9 122.3L260.7 121.6L262.5 120.7L265.1 121.5L267.3 122.8L269.8 123.4L271.9 122.5L274.2 121.3L275.3 123.1L277.1 124.4L278.2 126.4L280.1 128.4L281.9 130.8L280.9 132.8L280.0 134.5L279.2 136.5L278.3 139.2L277.2 141.5L278.6 143.9L280.2 146.1L282.7 145.2L285.1 144.9L287.3 144.1L289.3 143.4L291.3 143.0L293.3 142.5L295.7 143.3L298.1 144.1L300.4 144.1L300.5 146.4L299.9 148.6L299.4 150.6L300.2 153.3L301.3 156.1L302.8 158.6L301.4 161.3L300.8 164.2L299.4 166.7L298.5 169.1L297.4 171.8L296.7 174.3L295.4 176.8L296.6 179.0L298.4 180.8L298.3 183.2L298.0 185.5L297.4 187.9L296.5 189.9L295.3 192.1L294.4 193.9L293.4 196.2L291.7 198.0L293.9 198.8L295.5 199.8L297.4 201.0L299.3 200.0L301.1 198.3L302.8 197.0L304.9 196.0L306.6 194.4L308.5 192.9L310.3 190.8L312.8 189.7L314.5 187.9L316.4 186.2L318.2 184.9L320.6 183.8L323.2 182.7L325.6 181.2L327.7 182.7L329.6 183.8L332.3 185.3L334.7 186.9L336.6 187.9L338.7 188.5L339.7 190.9L341.8 189.8L343.7 188.7L345.8 187.9L347.7 185.9L349.9 184.8L351.8 182.8L353.4 180.8L354.5 179.0L355.8 176.8L358.0 175.7L359.9 174.8L362.1 175.2L364.5 175.6L366.9 175.8L369.0 176.8L371.5 177.4L374.0 177.8L375.6 179.6L377.6 180.8L379.0 182.8L380.3 185.0L381.8 186.8L383.1 188.9L384.8 191.0L386.8 192.7L388.1 194.9L390.2 196.2L392.4 197.3L394.2 199.0L395.5 200.8L397.2 202.7L398.2 205.0L397.9 207.7L397.4 210.4L397.2 213.1L396.9 215.2L396.6 216.9L396.8 219.1L397.1 222.0L397.4 225.3L398.2 228.0"/>
<path d="M335.7 78.0L337.2 79.3L338.7 81.0L339.7 83.1L339.7 85.1L341.9 85.2L344.5 85.5L346.8 86.1L347.5 87.7L348.8 89.1L347.6 91.2L345.8 93.1L344.9 95.5L344.8 98.2L346.4 100.2L347.3 102.4L348.8 104.2L350.5 105.9L352.8 107.9L354.8 109.2L356.9 110.3L359.7 110.7L361.9 111.3L363.8 112.2L365.9 112.5L367.9 113.3L369.5 111.3L371.0 109.2L373.7 108.3L376.4 107.4L379.0 106.2L381.6 107.3L384.6 107.6L387.1 108.2L388.6 110.5L390.6 112.4L392.1 114.3L390.8 116.3L389.1 118.3L391.1 119.2L393.2 120.7L395.2 121.3L396.0 123.1L396.2 125.4L398.8 126.4L401.2 127.4L401.6 129.3L402.2 131.4L400.0 133.2L398.2 135.5L396.5 137.8L394.2 139.5L392.0 140.5L389.6 141.6L387.1 142.5L385.1 142.7L383.1 142.8L381.0 142.5L379.1 142.9L377.1 143.8L375.0 144.5L374.0 146.6L373.0 148.6L374.5 150.4L376.0 152.6L378.4 153.4L380.4 154.7L382.8 155.4L385.1 156.6L386.9 158.2L389.0 160.1L391.3 161.1L393.1 162.7L395.3 163.3L397.1 164.9L399.2 165.7L401.7 166.4L403.8 167.8L406.2 168.7L407.6 170.7L408.7 172.6L409.3 174.8L411.2 176.7L412.4 178.9L414.3 180.8L416.0 182.3L417.7 184.3L419.4 185.9L420.7 188.3L421.6 190.8L423.0 192.9"/>
<path d="M339.7 344.9L341.6 342.5L342.7 339.9L341.8 337.4L340.9 335.0L339.7 332.8L337.4 330.9L335.7 328.8L335.5 326.7L335.0 324.9L334.7 322.8L334.4 320.8L333.3 318.9L332.7 316.7L332.3 313.8L330.9 311.3L330.6 308.6L333.3 307.7L335.7 306.6L337.5 304.8L338.7 302.6L339.8 300.6L341.1 298.3L342.7 296.5L343.9 294.2L345.2 292.2L346.8 290.5L348.6 289.2L350.8 288.7L352.8 287.5L355.3 286.4L358.4 286.4L360.9 285.5L362.8 284.9L364.9 284.8L366.9 284.5L369.1 284.9L370.9 285.4L373.0 285.5L375.5 285.1L378.2 285.3L381.0 285.5L383.8 285.1L386.4 284.6L389.1 284.5L391.0 284.5L393.0 285.1L395.2 284.9L397.2 284.4L399.0 284.8L401.2 284.5L403.0 285.8L404.2 287.5L405.8 287.8L407.3 288.5L409.3 286.5"/>
<path d="M398.2 228.0L399.8 230.2L401.2 232.0L403.4 234.0L405.2 236.1L406.9 237.8L409.3 239.1L411.8 240.3L414.3 241.1L414.5 243.7L415.3 246.1L417.0 246.8L418.3 248.2L419.8 250.1L420.4 252.2L419.0 254.7L417.3 257.2L418.0 259.0L418.3 261.1L418.3 263.3L417.6 265.8L416.3 268.3L416.3 270.3L417.2 272.2L417.3 274.4L416.9 276.6L416.1 278.4L415.3 280.4L413.3 282.6L411.3 284.5L409.3 286.5L409.3 288.0L409.3 289.5L411.3 291.1L413.3 292.5L416.0 292.4L418.3 292.1L420.6 292.9L423.0 293.5"/>
<path d="M250.0 328.8L250.7 331.2L251.2 333.6L250.9 336.3L251.6 338.6L252.0 340.9L252.7 343.6L254.3 346.0L255.0 349.0L255.7 351.1L256.7 353.0L257.1 355.0L255.5 357.5L254.0 360.1L253.1 362.3L251.9 364.9L251.0 367.1L250.0 369.1"/>
<path d="M389.1 393.7L391.3 392.2L392.9 390.5L395.2 389.1L397.0 388.1L399.2 387.0L401.2 386.1L402.6 383.3L404.2 381.0L406.6 380.4L409.1 380.1L411.3 379.0L413.4 379.0L415.2 379.9L417.3 380.0L420.0 378.6L423.0 378.0"/>
<path d="M270.2 501.0L271.0 498.6L272.2 495.9L273.6 495.4L275.2 495.3L277.6 496.9L280.2 498.0L282.2 499.2L284.2 500.6L286.3 502.0L288.1 503.2L290.3 504.0L290.7 506.4L291.3 509.0L293.9 509.8L296.4 511.1L296.6 513.1L297.5 515.1L297.4 517.1L295.6 519.0L294.4 521.1L296.3 522.8L298.4 524.2L300.4 523.2L302.5 522.4L304.4 522.2L306.4 520.5L308.6 519.9L310.5 518.1L312.4 518.0L314.4 517.4L316.5 517.1L318.4 514.9L320.6 513.1L322.3 511.1L323.6 508.6"/>
<path d="M423.0 192.9L424.7 194.1L426.4 195.3L428.0 197.0L430.0 198.2L431.3 199.6L433.1 201.0L435.0 202.8L436.6 205.1L438.1 207.0L439.2 209.2L439.8 211.2L441.2 212.9L442.2 215.1L443.1 218.0L444.1 220.4L445.2 223.2L446.6 225.7L448.2 228.0"/>
<path d="M456.3 78.0L458.1 80.3L460.3 82.0L462.3 82.9L464.3 83.7L466.3 84.0L468.2 85.0L470.1 86.3L472.4 87.1L474.7 87.3L477.0 88.1L479.1 89.9L481.5 91.7"/>
<path d="M448.2 228.0L450.6 228.8L453.2 229.6L455.0 230.5L456.3 232.0L458.1 233.9L460.3 235.1L462.3 236.4L464.5 237.6L466.3 239.1L468.2 240.1L470.4 241.1L468.1 242.4L466.3 244.1L464.8 245.4L463.3 247.2L463.5 249.2L464.3 251.2L466.5 252.1L468.6 253.1L470.4 254.2L472.6 255.9L474.4 258.2L475.0 260.7L475.8 263.3L474.8 264.7L473.4 266.3L472.0 267.7L471.4 269.3L471.6 271.3L472.4 273.4L473.0 275.4L472.0 278.0L470.4 280.4L469.2 281.8L467.8 283.4L468.4 285.8L468.0 288.3L468.4 290.5L468.7 292.5L470.0 294.6L470.4 296.5L471.3 298.9L472.3 301.4L473.4 303.6L473.3 306.1L473.9 308.2L474.4 310.7L473.6 312.9L473.4 315.5L472.4 317.7L472.2 320.1L472.1 322.5L471.4 324.8L471.8 327.3L472.6 330.1L473.0 332.8L473.0 335.4L472.4 337.9L470.4 339.2L468.4 340.9"/>
<path d="M423.0 293.5L425.2 294.7L427.0 296.5L429.4 297.7L432.1 298.2L433.3 296.4L434.1 294.5L432.5 292.6L431.1 290.5L430.7 289.0L430.1 287.5L432.7 286.1L435.1 284.5L437.4 282.8L439.6 281.7L442.2 280.8L443.6 281.1L445.2 281.4L447.3 283.4L449.2 285.5L451.7 286.2L454.2 287.5L456.6 285.6L459.3 284.5L462.0 283.3L464.3 281.4L466.1 280.1L468.4 279.4L470.4 280.4"/>
<path d="M468.4 340.9L466.4 342.0L464.4 343.1L462.3 343.9L460.2 345.2L458.4 346.7L456.3 348.0L453.6 349.0L451.2 350.0L448.5 350.3L445.8 350.6L443.2 351.0L443.1 353.1L442.7 355.0L442.2 357.0L439.6 357.2L437.1 358.0L434.5 357.7L432.1 357.0L429.3 358.3L427.0 360.1L426.0 361.9L425.0 364.1L426.3 366.5L427.0 369.1L426.6 371.3L426.0 373.2L428.2 374.4L430.1 376.2L432.1 378.0"/>
<path d="M423.0 378.4L424.0 380.3L425.0 382.0L426.5 382.2L428.0 383.0L429.9 381.9L432.1 381.0L432.6 379.4L432.7 378.0"/>
<path d="M527.7 623.4L527.4 625.0L527.1 626.4L528.1 627.9L529.3 628.9L529.5 630.8L530.2 632.6L531.1 634.5L532.6 636.3L534.5 638.6L536.3 640.7L538.7 642.4L540.7 644.4L542.8 646.0L544.4 648.1L546.1 649.9L548.1 651.2L549.7 652.4L551.8 653.6L554.2 654.9L556.7 653.8L559.2 653.0L561.9 652.4L564.1 651.2L566.6 650.6L569.1 649.9L571.5 650.1L574.0 649.3L576.6 649.5L579.0 650.5L580.8 650.7L582.7 651.2L585.0 650.1L587.6 649.9L590.3 649.3L592.5 648.1L594.2 648.0L596.0 647.1"/>
</g>
<g class="q qs" clip-path="url(#ax)"><path d="M143.4 95.0L143.8 94.7L143.9 95.9L147.6 92.1L142.4 93.2L143.3 93.8L142.9 94.1ZM136.5 106.0L136.9 105.7L137.1 106.8L140.1 103.0L135.5 104.5L136.4 105.0L136.0 105.2ZM114.6 125.1L115.0 125.4L114.1 125.8L118.3 127.6L115.8 123.7L115.5 124.7L115.2 124.4ZM161.5 140.7L162.0 140.5L162.1 141.6L165.7 137.7L160.5 139.0L161.5 139.6L161.0 139.9ZM158.6 156.7L159.1 156.8L158.5 157.7L163.7 156.6L158.8 154.7L159.2 155.8L158.7 155.7ZM165.3 170.2L165.7 170.2L165.2 171.1L169.7 170.1L165.4 168.4L165.8 169.3L165.3 169.3ZM162.6 177.3L163.1 177.3L162.5 178.2L167.3 177.4L162.9 175.4L163.2 176.4L162.7 176.3ZM135.8 175.5L136.1 175.6L135.6 176.1L139.1 176.2L136.2 174.2L136.3 175.0L136.0 174.9ZM122.3 184.7L122.5 184.7L122.1 185.1L124.4 185.3L122.6 183.8L122.6 184.3L122.4 184.2ZM195.2 199.8L195.6 199.5L195.7 200.6L199.0 197.0L194.2 198.2L195.1 198.7L194.7 199.0ZM132.4 202.2L132.6 202.2L132.3 202.6L134.4 202.5L132.6 201.4L132.7 201.8L132.5 201.8ZM144.5 227.2L144.9 227.3L144.3 228.1L148.8 227.6L144.8 225.5L145.0 226.4L144.6 226.4ZM184.8 236.2L185.3 236.2L184.6 237.2L189.9 236.5L185.1 234.1L185.4 235.2L184.9 235.2ZM94.2 272.2L94.4 272.1L94.4 272.6L96.2 271.1L93.9 271.3L94.3 271.7L94.1 271.8ZM85.8 292.2L85.9 292.5L85.3 292.4L87.1 294.5L86.8 291.8L86.4 292.3L86.3 292.0ZM110.2 311.3L110.4 311.3L110.1 311.7L112.2 311.6L110.4 310.5L110.5 310.9L110.3 310.9ZM135.7 321.8L136.1 322.0L135.3 322.7L140.5 323.4L136.5 320.0L136.5 321.1L136.1 320.9ZM109.7 322.8L110.1 323.0L109.3 323.6L113.9 324.4L110.5 321.1L110.5 322.2L110.1 322.0ZM173.1 321.4L173.5 321.7L172.7 322.1L176.4 323.4L174.0 320.2L173.9 321.1L173.6 320.8ZM180.6 321.6L180.9 321.8L180.3 322.1L183.2 323.2L181.4 320.6L181.3 321.3L181.0 321.1ZM93.9 327.7L94.2 327.9L93.4 328.3L97.2 329.8L94.9 326.5L94.7 327.3L94.4 327.1ZM177.6 337.6L177.8 337.8L177.3 338.0L179.4 339.3L178.4 337.0L178.1 337.5L178.0 337.3ZM86.9 341.7L87.1 341.8L86.6 341.9L88.5 343.0L87.5 341.1L87.4 341.5L87.2 341.4ZM99.9 343.3L99.6 343.9L99.0 343.9L98.7 343.3L99.0 342.8L99.6 342.8ZM102.9 350.3L103.2 350.6L102.2 350.9L106.2 353.4L104.2 349.1L103.9 350.0L103.6 349.7ZM155.7 355.8L155.4 356.4L154.8 356.4L154.5 355.8L154.8 355.3L155.4 355.3ZM133.2 358.6L133.4 358.9L132.7 358.9L135.1 361.1L134.2 358.0L133.9 358.5L133.7 358.3ZM141.3 364.8L141.5 365.0L141.0 365.0L142.7 366.4L142.0 364.4L141.8 364.8L141.7 364.6ZM184.9 369.5L184.6 370.1L183.9 370.1L183.6 369.5L183.9 369.0L184.6 369.0ZM132.3 375.9L132.4 376.1L132.0 376.2L133.9 377.2L132.9 375.3L132.7 375.8L132.6 375.6ZM198.7 356.3L198.4 356.9L197.8 356.9L197.4 356.3L197.8 355.8L198.4 355.8ZM202.8 353.5L202.9 353.7L202.4 353.6L203.7 355.3L203.6 353.2L203.3 353.5L203.2 353.3ZM202.7 252.7L202.8 252.9L202.2 252.8L203.6 255.2L203.8 252.4L203.3 252.8L203.3 252.5ZM208.7 275.2L209.1 275.5L208.1 276.0L213.1 278.0L210.0 273.6L209.8 274.7L209.4 274.4ZM213.9 315.1L214.3 315.3L213.4 315.9L218.1 317.1L214.8 313.5L214.7 314.5L214.3 314.3ZM209.9 299.7L210.0 299.9L209.5 299.9L211.1 301.4L210.6 299.3L210.3 299.6L210.2 299.5ZM245.1 312.9L245.3 313.1L244.6 313.3L247.4 315.1L246.1 312.1L245.8 312.7L245.6 312.5ZM85.2 383.3L84.8 383.6L84.6 382.6L82.0 386.5L86.3 384.7L85.4 384.3L85.8 384.0ZM110.0 385.2L110.0 385.4L109.6 385.0L109.5 387.5L110.9 385.5L110.4 385.6L110.5 385.3ZM115.5 384.6L115.5 384.8L115.1 384.5L115.3 386.7L116.3 384.8L115.9 384.9L115.9 384.7ZM133.2 392.7L132.8 392.9L132.8 391.8L129.0 395.1L134.1 394.5L133.2 393.8L133.7 393.6ZM153.2 381.7L152.8 381.8L153.1 381.1L150.0 382.4L153.3 383.0L152.9 382.4L153.2 382.4ZM115.4 400.2L115.1 400.5L114.9 399.6L112.3 403.2L116.5 401.6L115.6 401.2L116.0 400.9ZM89.3 401.9L89.0 402.1L88.9 401.2L86.1 404.2L90.1 403.2L89.4 402.7L89.7 402.5ZM157.2 398.8L156.8 398.8L157.1 398.0L153.2 399.8L157.4 400.4L156.9 399.6L157.3 399.6ZM183.4 401.3L183.1 401.3L183.3 400.6L180.2 402.2L183.6 402.6L183.2 402.0L183.5 401.9ZM154.5 414.8L154.1 414.9L154.3 413.9L150.0 416.3L154.9 416.7L154.3 415.9L154.7 415.8ZM159.5 428.0L159.1 428.1L159.3 427.1L155.2 429.6L160.0 429.7L159.3 429.0L159.8 428.8ZM197.5 431.4L197.0 431.4L197.4 430.4L192.9 432.4L197.7 433.2L197.2 432.4L197.6 432.3ZM181.4 441.0L180.9 441.0L181.3 439.9L176.2 442.1L181.6 443.1L181.0 442.1L181.5 442.0ZM205.5 461.9L205.1 462.0L205.4 461.1L201.6 463.1L205.9 463.5L205.3 462.8L205.7 462.7ZM136.6 489.0L136.1 488.9L136.8 488.0L131.4 488.5L136.2 491.0L135.9 489.9L136.4 490.0ZM120.9 500.2L120.5 500.3L120.7 499.5L117.3 501.4L121.2 501.7L120.7 501.0L121.0 500.9ZM94.1 505.5L93.6 505.6L94.0 504.5L89.1 506.6L94.3 507.5L93.7 506.6L94.2 506.5ZM165.8 506.6L165.3 506.5L166.0 505.7L161.3 506.2L165.5 508.4L165.2 507.4L165.6 507.5ZM125.3 512.8L125.1 512.9L125.2 512.4L123.0 513.7L125.6 513.8L125.2 513.4L125.4 513.3ZM171.7 519.9L171.5 520.0L171.5 519.6L169.8 520.9L172.0 520.7L171.6 520.4L171.8 520.3ZM206.0 523.8L205.6 523.9L205.9 523.1L202.4 524.8L206.2 525.3L205.7 524.6L206.1 524.5ZM214.5 482.0L214.0 482.0L214.4 481.0L209.7 482.8L214.6 483.9L214.1 483.0L214.5 482.9ZM223.2 486.1L222.8 486.1L223.2 485.4L219.7 486.5L223.2 487.5L222.8 486.8L223.2 486.8ZM240.2 509.9L240.0 509.9L240.1 509.5L238.4 510.9L240.5 510.6L240.2 510.3L240.4 510.2ZM232.2 519.9L232.0 520.0L232.1 519.5L230.2 520.7L232.4 520.7L232.1 520.4L232.3 520.3ZM244.6 439.1L244.2 439.2L244.3 438.3L240.7 440.9L245.2 440.7L244.5 440.0L244.9 439.9ZM246.3 457.1L245.8 457.2L246.1 456.1L241.3 458.6L246.7 459.1L246.0 458.2L246.5 458.1ZM240.6 405.9L240.3 406.0L240.4 405.4L237.9 407.2L241.0 407.1L240.5 406.6L240.8 406.5ZM203.2 391.2L202.9 391.7L202.3 391.7L202.0 391.2L202.3 390.7L202.9 390.7ZM218.4 391.3L218.1 391.8L217.5 391.8L217.2 391.3L217.5 390.8L218.1 390.8ZM223.5 411.6L223.2 412.1L222.6 412.1L222.2 411.6L222.6 411.0L223.2 411.0ZM77.2 450.4L77.4 450.7L76.5 450.7L79.4 453.8L78.7 449.6L78.1 450.4L78.0 450.0ZM110.2 540.4L109.9 540.9L109.3 540.9L108.9 540.4L109.3 539.9L109.9 539.9ZM86.0 529.2L85.7 529.7L85.1 529.7L84.7 529.2L85.1 528.7L85.7 528.7ZM95.4 554.1L95.7 554.3L95.1 554.8L98.8 555.2L96.0 552.8L96.0 553.6L95.7 553.5ZM118.1 552.1L118.4 552.3L117.6 552.7L121.4 554.2L119.1 550.9L118.9 551.7L118.6 551.5ZM113.1 609.6L113.1 609.4L113.7 609.5L112.5 607.0L112.1 609.8L112.6 609.4L112.6 609.7ZM131.3 622.8L131.3 622.5L131.9 622.8L131.0 619.7L130.1 622.8L130.7 622.5L130.7 622.8ZM103.5 655.8L103.9 655.5L104.1 656.5L106.8 652.6L102.4 654.3L103.3 654.8L102.9 655.1ZM165.4 547.9L165.8 548.1L164.9 548.5L168.7 550.2L166.5 546.6L166.3 547.5L166.0 547.3ZM172.1 554.5L171.8 555.0L171.1 555.0L170.8 554.5L171.1 554.0L171.8 554.0ZM178.8 552.5L179.1 552.5L178.8 553.1L181.8 552.2L178.8 551.3L179.1 551.9L178.8 551.9ZM192.1 577.2L192.5 577.0L192.5 578.0L196.0 574.8L191.3 575.6L192.1 576.2L191.7 576.4ZM192.6 584.5L192.6 584.1L193.2 584.5L192.3 581.4L191.4 584.5L192.0 584.1L192.0 584.5ZM203.2 542.2L203.3 542.0L203.6 542.4L204.0 540.1L202.4 541.8L202.9 541.8L202.8 542.0ZM218.3 565.4L218.4 565.2L218.7 565.6L219.1 563.3L217.5 565.0L218.0 565.0L217.9 565.2ZM225.4 584.7L225.7 585.1L224.7 585.3L228.6 588.1L226.9 583.6L226.4 584.5L226.2 584.2ZM216.9 599.2L217.1 598.9L217.5 599.8L219.1 595.5L215.5 598.2L216.4 598.4L216.2 598.7ZM236.1 613.3L236.4 613.5L235.8 613.8L238.7 614.7L236.8 612.4L236.7 613.0L236.4 612.8ZM214.5 663.7L214.7 663.2L215.4 664.1L216.1 659.0L212.8 662.9L213.9 662.8L213.7 663.3ZM159.9 678.4L160.3 678.1L160.5 679.2L163.7 675.2L158.8 676.8L159.8 677.3L159.4 677.6ZM242.9 540.6L243.0 540.4L243.3 540.7L243.5 538.6L242.2 540.3L242.6 540.2L242.5 540.4ZM227.0 549.5L226.7 550.0L226.1 550.0L225.8 549.5L226.1 548.9L226.7 548.9ZM246.8 556.5L246.5 557.1L245.8 557.1L245.5 556.5L245.8 556.0L246.5 556.0ZM169.1 615.8L169.2 615.4L169.9 615.9L169.3 611.7L167.5 615.5L168.4 615.2L168.3 615.6ZM262.2 198.8L262.4 198.7L262.4 199.2L264.1 197.6L261.8 198.0L262.2 198.3L262.0 198.4ZM259.2 251.4L258.9 251.9L258.3 251.9L257.9 251.4L258.3 250.9L258.9 250.9ZM278.6 260.1L279.0 260.1L278.4 260.9L282.7 260.3L278.8 258.4L279.1 259.3L278.7 259.2ZM286.2 321.3L286.4 321.4L286.0 321.8L288.3 322.0L286.5 320.5L286.6 321.0L286.4 320.9ZM299.3 334.4L299.5 334.5L299.2 334.8L301.3 335.1L299.6 333.7L299.7 334.1L299.5 334.1ZM292.6 349.3L292.9 349.4L292.3 349.9L296.0 350.4L293.2 348.0L293.2 348.8L292.9 348.6ZM270.0 362.4L270.3 362.6L269.6 363.2L273.8 364.1L270.8 361.0L270.7 361.9L270.4 361.7ZM326.1 370.4L325.8 371.0L325.2 371.0L324.9 370.4L325.2 369.9L325.8 369.9ZM317.0 303.4L317.4 303.6L316.7 304.3L321.6 304.6L317.6 301.7L317.7 302.7L317.3 302.6ZM371.9 286.3L372.3 286.3L371.8 287.1L376.0 286.5L372.2 284.7L372.4 285.5L372.0 285.5ZM381.1 288.8L381.5 288.7L381.4 289.6L384.7 287.5L380.7 287.4L381.3 288.0L380.9 288.1ZM363.6 305.0L364.0 304.7L364.2 305.7L366.9 301.6L362.4 303.5L363.4 303.9L363.0 304.2ZM359.8 319.9L359.9 320.0L359.5 320.2L361.5 320.9L360.2 319.2L360.2 319.7L360.0 319.6ZM362.0 320.5L362.1 320.6L361.7 320.8L363.7 321.7L362.5 319.9L362.4 320.3L362.2 320.2ZM391.4 319.0L391.7 318.7L392.0 319.5L393.5 315.7L390.2 318.0L391.1 318.2L390.8 318.5ZM407.3 302.8L407.5 302.4L408.2 303.3L409.3 298.2L405.5 301.9L406.7 301.9L406.4 302.4ZM410.7 301.3L411.0 300.8L411.6 301.9L413.3 296.5L409.0 300.1L410.1 300.2L409.8 300.7ZM358.5 341.2L358.9 341.2L358.6 341.9L361.9 340.3L358.3 339.9L358.8 340.5L358.4 340.6ZM387.2 347.8L387.4 347.7L387.3 348.2L389.1 347.0L386.9 347.0L387.2 347.3L387.0 347.4ZM390.7 362.8L390.8 362.7L390.9 363.2L392.1 361.4L390.1 362.2L390.6 362.4L390.4 362.5ZM412.0 369.6L412.4 369.5L412.1 370.5L416.3 368.5L411.7 367.8L412.3 368.6L411.8 368.7ZM320.5 346.6L320.8 346.6L320.5 347.1L323.0 346.5L320.6 345.6L320.8 346.1L320.6 346.1ZM327.3 338.9L327.7 339.2L326.6 339.7L331.7 341.9L328.6 337.3L328.4 338.4L328.0 338.1ZM315.3 395.8L315.0 396.0L314.9 395.2L312.5 398.2L316.1 397.1L315.4 396.6L315.7 396.4ZM297.8 402.2L297.4 402.4L297.4 401.4L294.0 404.6L298.6 403.8L297.8 403.2L298.2 403.0ZM276.5 405.6L276.3 405.8L276.2 405.2L274.6 407.2L277.0 406.4L276.6 406.2L276.8 406.0ZM277.5 420.1L277.3 420.2L277.3 419.7L275.6 421.3L277.9 420.9L277.5 420.6L277.7 420.5ZM256.4 430.5L256.0 430.5L256.3 429.8L253.0 431.4L256.6 431.9L256.2 431.2L256.5 431.2ZM265.7 431.2L265.4 431.2L265.5 430.6L263.1 432.0L265.9 432.2L265.5 431.8L265.8 431.7ZM286.2 472.0L285.8 472.0L286.2 471.1L282.3 472.8L286.4 473.6L285.9 472.8L286.3 472.8ZM405.5 480.5L405.2 480.7L405.3 480.0L402.8 482.0L406.0 481.7L405.5 481.2L405.8 481.1ZM374.9 497.2L374.5 497.3L374.7 496.3L371.0 498.6L375.3 498.8L374.7 498.1L375.1 498.0ZM391.2 498.2L390.8 498.2L391.3 497.5L387.7 498.0L390.9 499.6L390.7 498.8L391.1 498.9ZM384.8 504.2L384.4 504.0L385.2 503.4L380.6 503.0L384.2 505.8L384.1 504.9L384.5 505.0ZM358.8 504.6L358.4 504.7L358.7 503.8L354.8 505.6L359.1 506.2L358.5 505.5L358.9 505.4ZM342.2 509.0L341.8 509.1L342.0 508.1L337.7 510.5L342.6 510.8L342.0 510.0L342.4 509.9ZM415.0 491.6L414.8 491.5L415.2 491.1L412.3 490.9L414.6 492.7L414.6 492.1L414.8 492.2ZM415.5 513.7L415.1 513.5L415.9 512.9L411.3 512.1L414.7 515.3L414.7 514.3L415.1 514.5ZM306.0 524.8L305.6 524.8L305.9 524.0L302.0 525.6L306.2 526.4L305.7 525.6L306.1 525.6ZM275.4 380.1L275.1 380.7L274.5 380.7L274.2 380.1L274.5 379.6L275.1 379.6ZM312.3 379.7L312.0 380.3L311.4 380.3L311.1 379.7L311.4 379.2L312.0 379.2ZM345.0 380.1L344.7 380.7L344.0 380.7L343.7 380.1L344.0 379.6L344.7 379.6ZM386.9 386.2L386.6 386.7L386.0 386.7L385.7 386.2L386.0 385.6L386.6 385.6ZM386.3 397.9L386.0 398.4L385.4 398.4L385.1 397.9L385.4 397.3L386.0 397.3ZM259.4 517.3L259.1 517.9L258.5 517.9L258.2 517.3L258.5 516.8L259.1 516.8ZM270.5 480.9L270.2 481.5L269.5 481.5L269.2 480.9L269.5 480.4L270.2 480.4ZM301.5 537.6L301.0 537.5L301.7 536.7L296.8 537.1L301.1 539.5L300.8 538.4L301.3 538.5ZM308.5 543.3L308.1 543.2L308.6 542.4L304.0 543.3L308.3 545.1L308.0 544.1L308.4 544.2ZM343.2 540.2L342.9 540.1L343.4 539.5L339.7 539.7L342.9 541.5L342.7 540.8L343.1 540.8ZM351.9 543.3L351.5 543.2L352.2 542.5L347.8 542.5L351.5 544.9L351.3 544.0L351.7 544.1ZM340.4 553.0L340.2 552.9L340.5 552.6L338.3 552.6L340.1 553.8L340.1 553.3L340.3 553.4ZM277.0 572.0L277.5 571.8L277.5 572.9L281.2 569.3L276.1 570.2L277.0 570.9L276.6 571.1ZM261.9 578.7L261.6 579.2L261.0 579.2L260.7 578.7L261.0 578.2L261.6 578.2ZM331.2 578.9L330.8 578.7L331.7 578.0L326.2 577.4L330.4 580.9L330.4 579.7L330.8 579.9ZM312.0 596.3L312.1 596.4L311.7 596.6L313.5 597.6L312.5 595.7L312.4 596.1L312.2 596.0ZM330.6 595.8L330.2 596.4L329.6 596.4L329.3 595.8L329.6 595.3L330.2 595.3ZM297.4 608.9L297.2 608.4L298.3 608.5L295.2 604.6L295.6 609.6L296.4 608.8L296.5 609.2ZM265.9 623.1L265.8 622.7L266.6 622.9L264.5 619.7L264.5 623.5L265.1 622.9L265.2 623.3ZM298.1 627.2L298.1 626.9L298.6 627.2L297.8 624.4L296.9 627.2L297.5 626.9L297.5 627.2ZM319.6 629.1L319.5 628.8L320.2 628.8L318.1 626.4L318.5 629.6L319.0 629.0L319.1 629.3ZM254.3 655.3L254.2 654.9L255.3 655.2L253.0 650.6L252.4 655.7L253.3 655.0L253.3 655.5ZM320.5 654.6L320.5 654.2L321.2 654.4L319.6 651.0L319.1 654.8L319.7 654.3L319.8 654.7ZM326.5 645.2L326.3 644.9L327.1 644.9L324.6 642.5L325.4 645.8L325.8 645.2L325.9 645.5ZM352.0 642.3L351.8 642.2L352.3 641.9L349.8 640.9L351.3 643.1L351.5 642.6L351.7 642.7ZM356.7 617.0L356.4 617.5L355.7 617.5L355.4 617.0L355.7 616.5L356.4 616.5ZM361.1 595.3L360.9 595.1L361.6 594.9L358.9 593.1L360.2 596.1L360.4 595.5L360.6 595.7ZM370.1 594.7L369.9 594.6L370.4 594.3L367.9 593.5L369.5 595.5L369.6 595.0L369.8 595.1ZM359.0 575.7L358.8 575.6L359.2 575.3L356.5 574.8L358.5 576.7L358.5 576.1L358.8 576.2ZM379.1 538.9L378.9 538.8L379.3 538.5L377.0 538.1L378.7 539.7L378.7 539.2L378.9 539.3ZM400.3 536.3L400.1 536.1L400.6 535.9L398.2 535.1L399.8 537.1L399.9 536.5L400.1 536.7ZM375.1 556.0L374.9 555.9L375.3 555.6L373.0 555.2L374.7 556.8L374.7 556.3L374.9 556.4ZM378.1 554.2L377.8 554.7L377.2 554.7L376.9 554.2L377.2 553.7L377.8 553.7ZM394.3 564.1L394.2 564.0L394.6 563.9L392.7 562.7L393.7 564.7L393.9 564.3L394.0 564.4ZM419.2 560.1L419.0 559.9L419.6 559.7L416.9 558.2L418.3 560.9L418.5 560.3L418.8 560.5ZM398.3 590.7L398.1 590.6L398.5 590.4L396.5 589.7L397.8 591.4L397.9 591.0L398.1 591.1ZM403.8 589.8L403.6 589.6L404.1 589.5L402.2 588.4L403.2 590.3L403.3 589.9L403.5 590.0ZM383.3 614.6L383.2 614.4L383.7 614.4L382.1 612.7L382.5 615.0L382.8 614.6L382.9 614.8ZM392.4 629.2L392.4 628.9L393.0 629.1L391.7 626.2L391.2 629.3L391.8 628.9L391.8 629.2ZM403.8 641.8L403.7 641.6L404.2 641.6L402.6 640.1L403.1 642.2L403.3 641.8L403.5 642.0ZM423.3 611.5L423.1 611.2L423.9 611.2L421.4 608.6L422.1 612.2L422.5 611.5L422.7 611.8ZM373.3 667.0L373.2 666.7L374.0 666.9L372.2 663.7L372.0 667.4L372.6 666.9L372.6 667.2ZM405.7 668.3L405.9 667.9L406.6 668.7L407.3 663.5L403.9 667.5L405.0 667.5L404.8 667.9ZM423.2 651.9L423.1 651.7L423.6 651.6L421.8 650.0L422.4 652.4L422.7 651.9L422.8 652.1ZM423.2 599.5L423.1 599.1L424.0 599.5L422.4 595.5L421.6 599.7L422.3 599.2L422.4 599.6ZM439.4 193.8L439.9 193.9L439.1 194.8L444.4 194.7L440.0 191.9L440.2 193.0L439.7 192.8ZM435.1 337.3L435.5 337.3L435.0 338.1L439.1 337.3L435.2 335.7L435.5 336.5L435.1 336.5ZM558.2 357.0L558.6 356.9L558.6 357.8L562.1 355.0L557.6 355.4L558.3 356.1L557.9 356.2ZM550.4 350.3L550.7 350.4L550.2 350.9L553.6 350.6L550.6 349.0L550.8 349.7L550.5 349.7ZM546.0 365.9L546.2 365.8L546.2 366.3L548.0 365.1L545.8 365.1L546.1 365.4L545.9 365.5ZM529.3 370.9L529.4 371.0L529.0 371.1L530.6 372.4L530.0 370.4L529.7 370.8L529.6 370.6ZM585.5 282.3L585.8 282.1L585.9 282.8L587.9 280.0L584.7 281.2L585.4 281.6L585.1 281.8ZM584.4 248.4L584.6 248.3L584.6 248.9L586.7 247.2L584.0 247.4L584.4 247.8L584.2 247.9ZM573.6 247.3L573.3 247.8L572.7 247.8L572.4 247.3L572.7 246.7L573.3 246.7ZM568.1 259.9L567.8 260.4L567.1 260.4L566.8 259.9L567.1 259.3L567.8 259.3ZM555.1 280.2L554.8 280.8L554.1 280.8L553.8 280.2L554.1 279.7L554.8 279.7ZM556.1 299.3L555.8 299.8L555.1 299.8L554.8 299.3L555.1 298.7L555.8 298.7ZM564.5 311.1L564.2 311.6L563.6 311.6L563.3 311.1L563.6 310.5L564.2 310.5ZM559.5 315.2L559.2 315.7L558.6 315.7L558.3 315.2L558.6 314.7L559.2 314.7ZM565.2 228.9L565.6 228.8L565.4 229.6L568.6 227.6L564.8 227.6L565.4 228.2L565.0 228.3ZM512.0 390.6L511.7 391.1L511.1 391.1L510.8 390.6L511.1 390.1L511.7 390.1ZM427.2 408.5L427.0 408.8L426.6 408.2L426.0 411.3L428.2 409.1L427.6 409.0L427.7 408.8ZM446.1 386.4L445.8 386.9L445.2 386.9L444.9 386.4L445.2 385.8L445.8 385.8ZM456.1 447.3L455.8 447.8L455.1 447.8L454.8 447.3L455.1 446.7L455.8 446.7ZM480.3 443.2L480.0 443.8L479.3 443.8L479.0 443.2L479.3 442.7L480.0 442.7ZM486.9 435.2L486.6 435.7L486.0 435.7L485.7 435.2L486.0 434.6L486.6 434.6ZM522.6 449.3L522.3 449.8L521.7 449.8L521.4 449.3L521.7 448.7L522.3 448.7ZM527.2 424.7L526.9 425.2L526.3 425.2L526.0 424.7L526.3 424.1L526.9 424.1ZM533.3 401.8L533.0 402.3L532.4 402.3L532.1 401.8L532.4 401.3L533.0 401.3ZM543.4 402.4L543.1 402.9L542.4 402.9L542.1 402.4L542.4 401.9L543.1 401.9ZM552.9 410.6L552.5 411.1L551.9 411.1L551.6 410.6L551.9 410.0L552.5 410.0ZM557.3 423.3L557.0 423.8L556.4 423.8L556.0 423.3L556.4 422.7L557.0 422.7ZM519.8 460.0L519.5 460.5L518.9 460.5L518.5 460.0L518.9 459.4L519.5 459.4ZM475.0 466.1L474.7 466.6L474.1 466.6L473.8 466.1L474.1 465.6L474.7 465.6ZM501.0 476.1L500.7 476.6L500.1 476.6L499.8 476.1L500.1 475.5L500.7 475.5ZM486.3 484.5L486.0 485.0L485.4 485.0L485.1 484.5L485.4 483.9L486.0 483.9ZM469.0 493.3L468.7 493.9L468.1 493.9L467.7 493.3L468.1 492.8L468.7 492.8ZM476.4 499.4L476.1 499.9L475.5 499.9L475.2 499.4L475.5 498.8L476.1 498.8ZM445.8 497.4L445.5 497.9L444.9 497.9L444.6 497.4L444.9 496.8L445.5 496.8ZM429.0 504.3L428.7 504.8L428.0 504.8L427.7 504.3L428.0 503.8L428.7 503.8ZM447.2 516.9L446.9 517.4L446.3 517.4L446.0 516.9L446.3 516.4L446.9 516.4ZM496.4 504.6L496.1 505.1L495.5 505.1L495.2 504.6L495.5 504.1L496.1 504.1ZM507.1 504.6L506.8 505.1L506.2 505.1L505.8 504.6L506.2 504.1L506.8 504.1ZM512.9 514.5L512.6 515.0L512.0 515.0L511.7 514.5L512.0 514.0L512.6 514.0ZM521.0 517.9L520.7 518.5L520.1 518.5L519.8 517.9L520.1 517.4L520.7 517.4ZM523.0 489.3L522.7 489.8L522.1 489.8L521.8 489.3L522.1 488.8L522.7 488.8ZM539.7 510.8L539.9 511.0L539.3 511.1L541.5 512.7L540.5 510.2L540.3 510.7L540.1 510.5ZM565.4 523.2L565.0 523.7L564.4 523.7L564.1 523.2L564.4 522.6L565.0 522.6ZM590.6 506.4L590.2 507.0L589.6 507.0L589.3 506.4L589.6 505.9L590.2 505.9ZM424.6 521.5L424.3 522.1L423.7 522.1L423.4 521.5L423.7 521.0L424.3 521.0ZM570.3 396.8L570.5 397.1L569.6 397.2L572.6 399.8L571.5 395.9L571.1 396.7L570.9 396.3ZM560.9 454.9L561.2 455.1L560.6 455.5L564.1 456.2L561.6 453.7L561.6 454.5L561.3 454.3ZM568.0 461.0L568.3 461.2L567.6 461.6L571.2 462.7L568.8 459.8L568.7 460.6L568.4 460.4ZM591.1 468.0L591.4 468.2L590.7 468.5L594.0 469.7L592.0 466.9L591.8 467.7L591.5 467.5ZM573.1 493.9L573.1 493.4L574.1 493.9L572.6 488.9L571.1 493.9L572.1 493.4L572.1 493.9ZM587.1 491.8L587.0 491.4L587.9 491.5L585.3 487.9L585.5 492.3L586.2 491.6L586.3 492.1ZM421.3 423.7L420.9 424.0L420.6 422.9L417.9 427.3L422.6 425.2L421.6 424.7L421.9 424.4ZM415.2 430.2L414.9 430.5L414.6 429.4L411.8 433.8L416.5 431.7L415.5 431.3L415.9 430.9ZM407.7 436.2L407.4 436.6L407.1 435.5L404.5 439.9L409.0 437.7L408.0 437.3L408.4 436.9ZM443.1 540.0L442.9 539.7L443.7 539.7L441.5 537.1L441.9 540.5L442.3 539.9L442.5 540.2ZM486.1 533.0L486.1 532.8L486.5 532.9L485.5 531.0L485.3 533.2L485.7 532.9L485.7 533.1ZM468.4 549.8L468.1 550.3L467.4 550.3L467.1 549.8L467.4 549.2L468.1 549.2ZM538.1 538.1L537.8 538.6L537.2 538.6L536.9 538.1L537.2 537.5L537.8 537.5ZM554.3 541.7L554.0 542.2L553.3 542.2L553.0 541.7L553.3 541.2L554.0 541.2ZM485.3 549.7L485.2 549.5L485.7 549.5L484.1 547.8L484.5 550.1L484.8 549.7L484.9 549.9ZM513.0 547.6L513.0 547.3L513.6 547.6L512.7 544.5L511.8 547.6L512.4 547.3L512.4 547.6ZM453.4 558.2L453.4 558.0L453.9 558.2L453.2 556.2L452.6 558.2L453.0 558.0L453.0 558.2ZM488.2 561.2L488.1 560.9L488.8 561.0L487.1 558.2L487.0 561.5L487.5 561.0L487.6 561.3ZM516.0 562.2L516.0 562.0L516.5 562.2L515.3 559.7L515.0 562.4L515.4 562.1L515.5 562.3ZM520.6 558.2L520.6 558.0L521.1 558.2L520.2 555.8L519.7 558.3L520.1 558.0L520.1 558.3ZM442.6 572.7L442.5 572.3L443.5 572.6L441.5 568.3L440.8 572.9L441.6 572.4L441.7 572.8ZM463.9 578.4L463.9 578.2L464.3 578.3L463.3 576.4L463.1 578.5L463.5 578.2L463.5 578.4ZM473.6 577.9L473.5 577.7L474.1 577.7L472.4 575.8L472.7 578.3L473.1 577.9L473.2 578.1ZM479.3 587.9L479.1 587.6L479.8 587.5L477.0 585.5L478.3 588.7L478.6 588.0L478.8 588.3ZM488.0 591.3L487.8 590.9L488.8 591.0L485.9 587.1L486.2 592.0L486.9 591.2L487.1 591.7ZM509.1 595.4L509.0 594.9L510.1 595.1L507.3 590.9L507.3 596.0L508.1 595.2L508.2 595.7ZM515.7 602.3L515.7 601.7L516.7 602.4L515.7 597.0L513.6 602.0L514.7 601.6L514.6 602.1ZM529.3 595.8L529.6 595.3L530.2 596.3L531.3 590.9L527.5 594.8L528.6 594.8L528.4 595.3ZM466.7 612.8L466.8 612.4L467.4 613.0L467.4 609.0L465.3 612.4L466.1 612.2L466.0 612.6ZM476.1 619.8L476.2 619.5L476.7 620.0L476.6 616.7L474.9 619.5L475.6 619.4L475.5 619.7ZM461.6 627.8L461.7 627.5L462.3 627.9L461.7 624.4L460.3 627.7L461.0 627.4L461.0 627.8ZM483.3 630.9L483.4 630.5L484.2 631.2L484.1 626.4L481.5 630.5L482.6 630.3L482.4 630.7ZM477.8 635.0L478.0 634.6L478.6 635.3L479.0 630.8L476.2 634.4L477.2 634.3L477.0 634.7ZM437.8 603.5L437.7 603.3L438.3 603.4L436.7 601.0L436.7 603.8L437.2 603.4L437.3 603.7ZM442.1 594.5L442.0 593.9L443.1 594.3L440.7 589.5L440.0 594.8L441.0 594.1L441.0 594.6ZM427.5 657.1L427.6 656.7L428.4 657.3L428.0 652.6L425.7 656.7L426.7 656.5L426.6 656.9ZM438.0 655.6L438.2 655.1L439.0 656.0L439.5 650.6L436.1 654.8L437.2 654.7L437.0 655.2ZM555.6 579.5L555.6 579.0L556.6 579.6L555.7 574.4L553.5 579.2L554.6 578.8L554.6 579.4ZM578.6 556.4L578.8 556.0L579.5 556.8L580.3 552.2L577.0 555.6L578.0 555.6L577.8 556.0ZM423.2 650.0L423.2 649.8L423.6 650.1L423.4 648.0L422.4 649.9L422.8 649.7L422.8 649.9ZM423.6 610.3L423.3 610.8L422.7 610.8L422.4 610.3L422.7 609.7L423.3 609.7Z"/></g>
<g class="q" clip-path="url(#ax)"><path d="M79.5 98.4L81.6 103.0L80.3 103.0L84.1 107.2L83.4 101.6L82.6 102.6L80.5 97.9ZM166.8 99.3L170.6 99.0L170.1 100.3L175.4 98.2L169.9 96.8L170.5 98.0L166.7 98.2ZM184.7 95.0L192.8 98.0L191.9 98.9L197.6 99.2L193.1 95.7L193.2 97.0L185.0 94.0ZM213.9 79.5L223.4 82.6L222.5 83.6L228.2 83.6L223.6 80.3L223.8 81.6L214.3 78.5ZM213.9 94.2L224.6 99.5L223.6 100.3L229.2 101.2L225.1 97.2L225.1 98.6L214.3 93.2ZM178.6 120.4L195.7 127.1L194.7 128.0L200.4 128.4L196.0 124.8L196.1 126.1L179.0 119.4ZM218.9 120.8L224.1 123.8L223.1 124.6L228.6 125.8L224.8 121.6L224.7 122.9L219.4 119.9ZM242.5 118.8L253.3 122.8L252.4 123.7L258.0 124.0L253.6 120.5L253.7 121.8L242.9 117.8ZM108.9 126.1L111.6 129.2L110.4 129.6L115.3 132.4L113.0 127.3L112.4 128.5L109.7 125.4ZM134.4 133.5L134.9 133.1L135.1 134.4L138.5 129.8L133.1 131.6L134.2 132.2L133.7 132.6ZM113.9 141.8L118.9 148.1L117.6 148.5L122.4 151.6L120.3 146.3L119.7 147.5L114.7 141.2ZM189.5 143.3L191.1 144.9L189.9 145.4L194.9 148.0L192.3 142.9L191.9 144.1L190.3 142.5ZM220.4 135.6L226.4 137.5L225.6 138.5L231.2 138.5L226.6 135.2L226.8 136.5L220.7 134.5ZM210.0 148.1L214.9 148.4L214.2 149.5L219.7 148.2L214.5 146.1L214.9 147.3L210.1 147.0ZM231.8 155.4L234.2 157.9L232.9 158.3L237.9 161.1L235.5 155.9L235.0 157.1L232.6 154.6ZM206.8 173.8L209.6 175.5L208.6 176.2L214.1 177.4L210.3 173.2L210.1 174.5L207.3 172.9ZM236.9 171.2L239.3 173.1L238.1 173.7L243.3 175.8L240.3 171.0L239.9 172.3L237.6 170.3ZM189.5 183.2L191.0 185.1L189.8 185.4L194.5 188.5L192.4 183.2L191.9 184.4L190.3 182.5ZM89.0 173.4L92.1 179.7L90.8 179.8L94.7 183.8L93.9 178.2L93.1 179.2L90.0 172.9ZM92.2 187.0L94.1 196.7L92.8 196.4L95.5 201.4L96.2 195.8L95.2 196.5L93.3 186.8ZM115.8 183.4L116.6 186.3L115.3 186.1L118.3 190.9L118.6 185.2L117.6 186.1L116.8 183.1ZM193.1 210.5L192.3 210.3L193.2 209.3L187.5 209.5L192.2 212.6L192.0 211.4L192.8 211.6ZM216.8 204.5L218.2 205.4L217.1 206.1L222.6 207.6L219.0 203.2L218.8 204.5L217.4 203.6ZM233.8 199.6L235.5 202.6L234.2 202.7L238.3 206.6L237.2 201.1L236.4 202.1L234.7 199.1ZM98.6 210.7L98.6 223.1L97.4 222.6L99.2 228.0L100.9 222.6L99.7 223.1L99.7 210.7ZM80.5 223.1L79.8 233.6L78.7 233.0L80.0 238.5L82.1 233.2L80.9 233.7L81.6 223.2ZM225.9 224.7L230.7 227.1L229.7 227.9L235.3 228.8L231.2 224.8L231.2 226.1L226.4 223.7ZM84.7 142.9L91.4 148.4L90.3 148.9L95.5 151.0L92.4 146.2L92.1 147.5L85.4 142.1ZM78.3 125.2L80.2 126.4L79.1 127.1L84.7 128.4L80.9 124.1L80.8 125.4L78.9 124.3ZM137.3 78.5L138.8 79.0L137.9 79.9L143.5 80.0L139.0 76.7L139.1 78.0L137.7 77.5ZM96.2 242.6L97.6 249.2L96.4 248.9L99.2 253.8L99.7 248.2L98.7 248.9L97.3 242.4ZM145.3 231.5L146.9 232.2L146.0 233.1L151.6 233.6L147.3 229.9L147.4 231.2L145.8 230.5ZM175.7 246.7L177.4 246.9L176.6 248.0L182.2 247.2L177.2 244.6L177.5 245.9L175.9 245.6ZM132.1 252.6L134.8 254.4L133.6 255.1L139.1 256.6L135.6 252.2L135.4 253.5L132.7 251.7ZM155.2 264.4L158.4 264.7L157.7 265.9L163.3 264.7L158.1 262.4L158.5 263.7L155.3 263.3ZM184.1 260.4L186.2 261.1L185.2 262.1L190.9 262.3L186.4 258.8L186.5 260.1L184.4 259.3ZM138.9 273.9L141.9 275.3L140.9 276.1L146.6 276.8L142.4 273.0L142.4 274.3L139.3 272.9ZM147.1 279.9L152.4 280.7L151.7 281.8L157.2 280.8L152.1 278.4L152.5 279.6L147.2 278.9ZM115.9 278.7L118.3 281.6L117.0 282.0L121.8 285.1L119.7 279.8L119.1 281.0L116.7 278.1ZM102.1 281.7L103.8 284.5L102.5 284.7L106.6 288.5L105.5 282.9L104.7 284.0L103.1 281.2ZM101.9 293.0L104.2 294.4L103.2 295.2L108.7 296.5L105.0 292.2L104.8 293.5L102.5 292.1ZM82.7 298.9L84.7 301.1L83.5 301.5L88.5 304.2L86.0 299.1L85.5 300.3L83.4 298.2ZM197.1 290.6L198.6 291.5L197.5 292.2L203.0 293.5L199.3 289.2L199.1 290.5L197.6 289.6ZM185.6 294.0L187.0 294.7L185.9 295.5L191.5 296.5L187.6 292.5L187.5 293.8L186.1 293.0ZM174.2 297.7L175.6 298.1L174.8 299.1L180.4 299.2L175.9 295.8L176.0 297.1L174.5 296.6ZM130.9 305.7L133.1 306.3L132.2 307.3L137.9 307.0L133.1 304.0L133.3 305.3L131.2 304.7ZM141.3 318.2L141.8 318.4L140.9 319.3L146.6 319.7L142.2 316.1L142.2 317.4L141.7 317.2ZM111.2 353.7L111.6 354.3L110.3 354.5L114.7 358.0L113.2 352.6L112.5 353.7L112.1 353.1ZM218.1 308.3L218.5 295.8L219.7 296.4L218.1 290.9L216.2 296.2L217.4 295.7L217.0 308.2ZM218.6 317.8L219.5 321.2L218.2 321.0L221.2 325.8L221.5 320.1L220.5 320.9L219.7 317.6ZM221.0 245.6L224.5 247.0L223.6 247.9L229.2 248.2L224.8 244.6L224.9 245.9L221.3 244.6ZM222.1 264.2L225.1 267.9L223.9 268.2L228.6 271.3L226.6 266.1L226.0 267.2L223.0 263.5ZM243.7 269.4L249.4 271.9L248.4 272.8L254.0 273.4L249.8 269.6L249.8 270.9L244.2 268.4ZM247.3 288.0L251.1 288.6L250.4 289.7L256.0 288.9L251.0 286.3L251.3 287.6L247.4 286.9ZM76.9 305.6L77.0 311.9L75.8 311.3L77.6 316.7L79.2 311.3L78.1 311.8L77.9 305.6ZM76.7 345.0L76.9 348.2L75.7 347.7L77.8 353.0L79.1 347.5L78.0 348.1L77.7 344.9ZM157.6 434.9L156.7 435.1L157.0 433.8L152.0 436.5L157.6 437.2L156.9 436.1L157.7 436.0ZM133.4 433.5L132.5 433.6L132.9 432.4L127.8 434.9L133.4 435.8L132.7 434.7L133.5 434.6ZM92.0 431.5L91.4 431.6L91.8 430.3L86.7 432.8L92.3 433.8L91.6 432.7L92.2 432.6ZM113.2 436.3L111.6 436.5L112.1 435.3L106.8 437.5L112.4 438.7L111.7 437.6L113.3 437.4ZM120.4 443.0L116.6 442.4L117.3 441.3L111.7 442.1L116.7 444.7L116.4 443.4L120.3 444.1ZM94.1 446.0L90.8 446.4L91.2 445.2L86.1 447.6L91.6 448.6L91.0 447.5L94.2 447.1ZM185.4 457.1L184.6 457.2L185.0 455.9L179.8 458.2L185.4 459.4L184.7 458.3L185.5 458.2ZM129.9 460.1L122.2 458.5L123.0 457.5L117.3 458.0L122.3 460.8L122.0 459.6L129.7 461.2ZM178.9 468.6L175.0 468.2L175.7 467.1L170.1 468.3L175.4 470.5L174.9 469.3L178.8 469.7ZM96.1 473.8L94.3 474.1L94.7 472.8L89.5 475.2L95.1 476.2L94.4 475.1L96.2 474.9ZM81.4 485.3L80.8 485.4L81.2 484.2L76.0 486.5L81.5 487.6L80.9 486.5L81.5 486.4ZM116.2 484.9L115.0 485.1L115.4 483.8L110.3 486.3L115.8 487.3L115.2 486.2L116.4 486.0ZM144.7 483.9L143.3 483.5L144.2 482.5L138.5 482.4L143.1 485.8L142.9 484.5L144.4 485.0ZM166.8 490.4L164.1 489.8L164.9 488.7L159.3 489.3L164.2 492.1L163.9 490.8L166.6 491.4ZM180.9 488.4L177.0 487.7L177.8 486.6L172.2 487.5L177.2 490.0L176.9 488.8L180.7 489.4ZM205.5 505.5L204.3 505.7L204.6 504.4L199.6 507.0L205.2 507.8L204.5 506.8L205.7 506.6ZM249.3 498.0L248.7 498.1L249.0 496.9L243.9 499.4L249.5 500.3L248.8 499.2L249.5 499.1ZM145.0 578.5L143.2 575.7L144.5 575.5L140.1 572.0L141.6 577.4L142.3 576.3L144.1 579.1ZM210.6 627.0L211.4 624.5L212.4 625.4L212.5 619.7L209.1 624.3L210.4 624.2L209.6 626.6ZM255.9 78.5L257.3 78.9L256.4 79.9L262.1 79.6L257.3 76.6L257.5 77.8L256.2 77.5ZM283.1 79.5L302.7 85.6L301.8 86.5L307.5 86.5L302.8 83.2L303.0 84.5L283.4 78.5ZM270.0 85.0L287.6 90.7L286.7 91.7L292.3 91.7L287.7 88.4L287.9 89.7L270.3 83.9ZM254.8 93.6L272.5 101.3L271.6 102.2L277.2 102.8L273.0 99.1L273.0 100.4L255.3 92.6ZM292.2 96.3L305.6 98.5L304.9 99.6L310.5 98.8L305.4 96.2L305.8 97.4L292.4 95.2ZM259.9 110.8L274.4 114.6L273.6 115.6L279.2 115.3L274.5 112.3L274.7 113.5L260.2 109.7ZM281.1 130.5L290.5 132.4L289.7 133.5L295.4 132.8L290.4 130.1L290.7 131.4L281.4 129.5ZM297.9 127.9L308.6 128.9L308.0 130.0L313.5 128.8L308.3 126.6L308.7 127.8L298.0 126.9ZM266.9 142.0L275.5 145.3L274.6 146.2L280.2 146.5L275.8 143.0L275.9 144.3L267.3 141.0ZM312.1 141.4L320.7 141.8L320.1 143.0L325.6 141.5L320.3 139.5L320.8 140.8L312.1 140.4ZM326.1 149.5L336.9 151.3L336.1 152.4L341.7 151.6L336.7 149.0L337.0 150.2L326.3 148.4ZM318.5 160.8L329.8 161.4L329.2 162.5L334.7 161.1L329.4 159.1L329.9 160.3L318.6 159.7ZM286.2 164.8L293.5 165.7L292.8 166.8L298.4 165.7L293.2 163.4L293.6 164.6L286.4 163.8ZM272.1 172.9L275.4 173.3L274.7 174.4L280.2 173.4L275.1 171.0L275.5 172.2L272.2 171.8ZM257.9 182.3L260.9 183.3L260.1 184.3L265.7 184.2L261.1 181.0L261.3 182.3L258.2 181.3ZM303.0 199.1L313.6 196.3L313.4 197.6L318.1 194.5L312.5 194.2L313.3 195.2L302.7 198.0ZM317.5 189.8L327.4 190.5L326.8 191.7L332.3 190.3L327.0 188.2L327.4 189.4L317.6 188.8ZM329.0 180.8L339.9 181.9L339.2 183.0L344.8 181.8L339.6 179.6L340.0 180.8L329.1 179.7ZM338.6 184.4L346.9 185.9L346.2 187.0L351.8 186.3L346.8 183.6L347.1 184.9L338.8 183.3ZM338.0 201.1L345.9 202.9L345.2 203.9L350.8 203.4L345.9 200.5L346.2 201.8L338.2 200.1ZM307.2 216.6L314.5 214.1L314.4 215.4L319.0 212.1L313.3 212.2L314.2 213.1L306.9 215.6ZM290.1 224.1L297.1 221.4L297.0 222.7L301.4 219.1L295.8 219.5L296.7 220.4L289.7 223.1ZM267.8 226.7L269.9 226.4L269.5 227.7L274.6 225.2L269.0 224.3L269.7 225.4L267.7 225.7ZM315.4 79.5L359.1 90.4L358.3 91.5L363.9 91.1L359.1 88.1L359.3 89.4L315.7 78.5ZM338.6 113.2L354.4 116.0L353.7 117.1L359.3 116.3L354.3 113.7L354.6 114.9L338.8 112.1ZM356.8 95.7L379.8 99.5L379.1 100.6L384.7 99.8L379.6 97.2L380.0 98.4L356.9 94.6ZM368.8 92.2L391.9 97.1L391.1 98.1L396.8 97.6L391.8 94.8L392.1 96.0L369.1 91.2ZM389.0 93.0L421.8 101.0L421.0 102.0L426.6 101.6L421.8 98.6L422.0 99.9L389.2 92.0ZM414.3 103.7L435.6 104.6L435.1 105.7L440.5 104.2L435.2 102.3L435.7 103.5L414.3 102.7ZM400.2 81.6L415.5 82.6L414.9 83.8L420.4 82.4L415.1 80.3L415.6 81.6L400.2 80.5ZM370.4 111.8L395.3 117.4L394.6 118.4L400.2 117.9L395.3 115.1L395.6 116.3L370.7 110.7ZM404.1 124.9L426.2 131.6L425.4 132.5L431.0 132.4L426.4 129.2L426.5 130.5L404.4 123.9ZM343.6 145.4L360.5 151.0L359.7 152.0L365.3 152.0L360.7 148.7L360.9 150.0L343.9 144.4ZM361.1 138.0L384.8 146.4L383.8 147.4L389.5 147.6L385.0 144.1L385.1 145.4L361.5 137.0ZM378.9 141.0L404.5 148.7L403.6 149.7L409.3 149.6L404.6 146.4L404.8 147.7L379.2 140.0ZM372.4 146.0L395.4 154.1L394.5 155.1L400.2 155.2L395.7 151.8L395.8 153.1L372.8 145.0ZM407.2 156.2L425.2 158.1L424.5 159.2L430.0 158.0L424.9 155.8L425.3 157.0L407.3 155.1ZM418.4 164.2L432.2 163.9L431.7 165.1L437.1 163.3L431.7 161.7L432.2 162.8L418.3 163.1ZM369.0 180.3L379.4 178.6L379.0 179.8L384.1 177.2L378.5 176.4L379.2 177.5L368.9 179.3ZM392.3 178.7L407.5 173.3L407.4 174.6L411.9 171.1L406.2 171.3L407.1 172.3L392.0 177.7ZM366.5 198.9L381.9 194.7L381.7 196.0L386.5 192.9L380.8 192.7L381.7 193.7L366.2 197.8ZM367.0 197.5L381.4 195.1L381.1 196.3L386.1 193.7L380.5 192.9L381.2 194.0L366.8 196.4ZM387.7 206.6L399.4 207.3L398.7 208.4L404.2 207.0L398.9 205.0L399.4 206.2L387.7 205.5ZM382.0 219.3L392.3 219.5L391.7 220.7L397.2 219.1L391.8 217.3L392.3 218.5L382.1 218.2ZM414.4 203.9L428.4 201.7L428.0 202.9L433.1 200.4L427.5 199.5L428.2 200.6L414.2 202.9ZM267.6 240.6L268.4 240.8L267.5 241.8L273.2 241.7L268.5 238.5L268.7 239.8L267.9 239.6ZM263.5 279.9L267.0 281.0L266.1 282.0L271.8 282.0L267.2 278.7L267.3 280.0L263.9 278.9ZM267.6 295.1L270.4 295.8L269.5 296.8L275.2 296.5L270.4 293.5L270.7 294.8L267.9 294.0ZM287.2 285.9L300.0 277.8L300.2 279.1L303.8 274.8L298.3 276.2L299.4 276.9L286.6 285.0ZM273.8 309.2L277.4 309.2L276.9 310.4L282.3 308.6L276.9 306.9L277.4 308.1L273.8 308.1ZM286.1 365.6L286.7 365.9L285.7 366.7L291.3 367.5L287.2 363.6L287.2 364.9L286.5 364.6ZM328.1 236.2L335.3 237.9L334.5 238.9L340.1 238.5L335.3 235.6L335.5 236.8L328.4 235.1ZM343.1 233.6L349.3 234.5L348.6 235.6L354.2 234.7L349.1 232.2L349.5 233.4L343.2 232.5ZM312.8 247.1L323.8 249.9L323.0 250.9L328.6 250.6L323.8 247.6L324.1 248.9L313.0 246.0ZM355.7 247.1L362.1 248.8L361.3 249.8L366.9 249.6L362.2 246.5L362.4 247.8L356.0 246.0ZM368.8 255.1L375.3 257.5L374.4 258.4L380.0 258.6L375.6 255.2L375.7 256.5L369.1 254.1ZM361.7 266.2L365.6 267.4L364.7 268.4L370.4 268.3L365.7 265.1L365.9 266.4L362.1 265.2ZM387.0 251.1L393.3 251.8L392.6 252.9L398.2 251.8L393.0 249.5L393.4 250.7L387.2 250.0ZM404.4 243.6L413.1 241.7L412.8 243.0L417.7 240.1L412.1 239.6L412.9 240.6L404.1 242.6ZM415.0 250.9L427.2 248.1L427.0 249.4L431.9 246.5L426.2 246.1L427.0 247.1L414.8 249.9ZM330.8 270.2L335.2 272.8L334.2 273.6L339.7 274.8L335.9 270.6L335.8 271.9L331.3 269.3ZM334.4 285.9L335.2 286.3L334.1 287.1L339.7 288.1L335.7 284.1L335.7 285.4L334.9 285.0ZM320.2 287.9L323.4 290.4L322.3 291.0L327.6 292.9L324.4 288.3L324.1 289.5L320.9 287.0ZM411.1 286.8L412.9 284.3L413.6 285.4L415.3 280.0L410.8 283.4L412.0 283.6L410.2 286.2ZM404.9 339.4L408.9 337.1L409.0 338.4L412.9 334.2L407.3 335.4L408.4 336.2L404.4 338.4ZM407.5 356.5L408.9 355.8L409.0 357.1L412.9 353.0L407.3 354.0L408.4 354.8L407.0 355.5ZM318.3 333.7L320.6 335.2L319.5 335.9L325.0 337.3L321.3 332.9L321.2 334.2L318.8 332.8ZM333.0 413.8L331.4 413.9L331.9 412.6L326.6 414.7L332.1 416.1L331.5 414.9L333.1 414.8ZM318.5 425.2L313.7 425.5L314.2 424.3L308.9 426.4L314.4 427.8L313.8 426.6L318.6 426.3ZM354.8 425.2L352.0 425.5L352.4 424.2L347.2 426.4L352.7 427.7L352.1 426.5L354.9 426.3ZM359.8 424.8L357.2 425.0L357.7 423.8L352.4 425.8L357.9 427.2L357.3 426.1L359.9 425.9ZM387.9 428.9L385.9 429.5L386.1 428.2L381.5 431.4L387.1 431.5L386.3 430.5L388.3 429.9ZM297.4 446.6L293.6 446.5L294.1 445.3L288.7 447.0L294.1 448.8L293.6 447.6L297.4 447.7ZM306.9 447.2L302.9 447.1L303.4 446.0L298.0 447.6L303.3 449.4L302.8 448.2L306.8 448.3ZM336.2 448.0L332.4 448.5L332.8 447.2L327.6 449.6L333.2 450.7L332.5 449.5L336.4 449.1ZM365.1 444.0L361.6 445.3L361.7 444.0L357.3 447.6L362.9 447.3L362.0 446.4L365.5 445.0ZM374.9 445.4L371.1 446.4L371.3 445.1L366.5 448.2L372.2 448.5L371.4 447.5L375.1 446.5ZM283.8 454.7L281.9 455.0L282.3 453.7L277.2 456.2L282.8 457.1L282.1 456.0L284.0 455.8ZM315.6 456.1L313.4 456.0L314.0 454.8L308.5 456.2L313.8 458.3L313.3 457.0L315.5 457.2ZM372.9 463.1L369.7 463.6L370.1 462.3L364.9 464.7L370.5 465.7L369.8 464.6L373.1 464.2ZM381.0 466.8L378.7 467.1L379.1 465.8L374.0 468.3L379.6 469.3L378.9 468.2L381.1 467.8ZM411.1 463.2L410.4 463.5L410.4 462.2L406.2 466.1L411.9 465.3L410.9 464.5L411.5 464.2ZM355.3 472.8L354.7 472.8L355.3 471.6L349.8 473.2L355.1 475.1L354.6 473.9L355.2 473.9ZM318.9 487.9L317.6 488.1L318.0 486.9L312.9 489.3L318.5 490.3L317.8 489.2L319.0 489.0ZM305.6 490.4L304.8 490.2L305.7 489.2L300.0 489.3L304.7 492.5L304.5 491.2L305.3 491.4ZM330.6 500.9L329.7 501.0L330.0 499.7L325.0 502.4L330.6 503.1L329.9 502.1L330.7 501.9ZM335.0 519.6L334.4 519.7L334.8 518.4L329.6 520.7L335.2 521.9L334.5 520.7L335.1 520.7ZM290.5 563.2L294.8 562.0L294.6 563.3L299.4 560.3L293.7 560.0L294.6 561.0L290.2 562.2ZM293.2 602.4L293.0 601.9L294.3 601.9L290.7 597.6L291.1 603.2L292.0 602.3L292.2 602.8ZM446.2 82.6L468.6 82.2L468.0 83.4L473.4 81.6L468.0 80.0L468.5 81.2L446.2 81.5ZM441.2 87.0L461.5 86.7L461.0 87.9L466.3 86.1L460.9 84.4L461.5 85.6L441.1 85.9ZM432.1 139.0L448.0 138.7L447.5 139.9L452.8 138.1L447.4 136.5L448.0 137.6L432.1 137.9ZM422.4 146.7L440.3 147.0L439.7 148.2L445.2 146.5L439.8 144.7L440.3 145.9L422.4 145.6ZM442.8 159.6L461.1 159.0L460.6 160.2L465.9 158.2L460.5 156.7L461.1 157.9L442.7 158.5ZM466.5 127.5L483.9 123.1L483.7 124.4L488.5 121.3L482.9 121.0L483.7 122.0L466.2 126.5ZM476.6 128.9L496.7 123.2L496.5 124.5L501.2 121.3L495.6 121.2L496.4 122.2L476.3 127.9ZM465.4 141.4L483.3 137.9L483.0 139.2L487.9 136.5L482.3 135.8L483.0 136.9L465.2 140.4ZM440.9 183.8L462.4 177.6L462.2 178.9L467.0 175.8L461.3 175.6L462.1 176.6L440.6 182.7ZM468.5 195.5L483.3 191.6L483.1 192.9L487.9 189.9L482.3 189.6L483.1 190.6L468.2 194.4ZM453.4 203.5L468.5 199.2L468.3 200.5L473.0 197.4L467.3 197.2L468.2 198.2L453.1 202.5ZM441.3 217.6L462.4 212.2L462.2 213.5L467.0 210.5L461.3 210.1L462.1 211.2L441.0 216.6ZM465.4 224.1L490.8 222.9L490.3 224.1L495.6 222.2L490.1 220.7L490.7 221.8L465.3 223.0ZM466.3 222.9L489.7 223.4L489.1 224.6L494.6 223.0L489.2 221.1L489.7 222.3L466.4 221.8ZM487.7 178.3L506.8 172.3L506.7 173.6L511.3 170.3L505.6 170.3L506.5 171.3L487.4 177.3ZM491.3 208.2L505.7 205.0L505.4 206.3L510.3 203.4L504.7 202.9L505.4 203.9L491.0 207.1ZM504.9 95.6L525.6 86.8L525.6 88.2L529.9 84.5L524.2 85.0L525.2 85.9L504.4 94.6ZM520.0 93.6L543.7 83.4L543.7 84.7L548.0 81.0L542.4 81.6L543.3 82.4L519.6 92.6ZM500.2 111.2L520.9 105.1L520.7 106.4L525.4 103.2L519.8 103.1L520.6 104.1L499.9 110.1ZM508.2 125.9L530.3 120.9L530.0 122.2L534.9 119.3L529.2 118.8L530.0 119.9L508.0 124.9ZM497.3 141.0L524.3 134.2L524.0 135.4L528.8 132.4L523.2 132.1L524.0 133.1L497.1 140.0ZM508.3 159.5L535.7 147.9L535.6 149.2L539.9 145.5L534.3 146.1L535.3 146.9L507.9 158.6ZM519.9 158.8L574.7 143.3L574.5 144.6L579.2 141.5L573.6 141.3L574.4 142.3L519.6 157.7ZM518.4 175.2L533.0 167.0L533.1 168.3L536.9 164.1L531.4 165.3L532.4 166.0L517.9 174.3ZM517.4 194.4L531.0 188.8L531.0 190.1L535.3 186.5L529.6 186.9L530.6 187.8L516.9 193.4ZM521.1 209.9L532.9 201.3L533.2 202.5L536.5 198.0L531.1 199.8L532.3 200.4L520.5 209.0ZM522.5 209.5L532.3 202.3L532.6 203.6L535.9 199.0L530.5 200.8L531.7 201.4L521.9 208.6ZM551.6 94.2L579.9 83.8L579.8 85.1L584.3 81.6L578.6 81.9L579.5 82.8L551.2 93.2ZM562.3 98.3L600.0 85.3L599.9 86.6L604.5 83.2L598.8 83.4L599.7 84.3L561.9 97.2ZM548.1 131.4L577.6 124.9L577.4 126.2L582.3 123.4L576.6 122.8L577.4 123.9L547.9 130.3ZM581.4 131.9L606.0 124.3L605.9 125.6L610.5 122.4L604.8 122.3L605.7 123.3L581.1 130.9ZM590.5 113.2L612.0 107.9L611.7 109.2L616.5 106.2L610.9 105.8L611.7 106.9L590.2 112.2ZM572.1 161.5L589.4 151.5L589.6 152.8L593.4 148.6L587.8 149.8L588.9 150.5L571.5 160.6ZM553.8 190.8L568.8 185.4L568.7 186.7L573.2 183.2L567.5 183.4L568.4 184.4L553.5 189.8ZM562.0 213.1L566.9 210.1L567.1 211.4L570.8 207.0L565.3 208.4L566.4 209.1L561.4 212.2ZM568.0 213.1L573.3 210.0L573.5 211.3L577.2 207.0L571.7 208.3L572.8 209.1L567.5 212.2ZM579.6 207.5L585.2 203.3L585.4 204.6L588.7 200.0L583.4 201.8L584.5 202.4L578.9 206.6ZM565.3 229.2L567.1 227.4L567.6 228.6L570.2 223.6L565.1 226.2L566.4 226.6L564.6 228.4ZM422.1 247.1L435.6 243.5L435.4 244.8L440.1 241.7L434.5 241.4L435.3 242.4L421.9 246.0ZM483.5 235.6L495.7 236.0L495.2 237.2L500.6 235.7L495.3 233.7L495.8 235.0L483.5 234.5ZM491.5 238.6L498.4 238.9L497.8 240.0L503.2 238.5L497.9 236.6L498.4 237.8L491.6 237.5ZM463.3 252.3L480.6 252.3L480.1 253.5L485.5 251.8L480.1 250.1L480.6 251.3L463.3 251.3ZM448.1 262.2L456.4 263.5L455.7 264.6L461.3 263.7L456.2 261.2L456.6 262.4L448.3 261.1ZM458.3 269.5L467.5 270.0L466.9 271.2L472.4 269.7L467.1 267.7L467.6 268.9L458.3 268.4ZM482.5 265.8L489.8 264.9L489.4 266.1L494.6 263.7L489.0 262.7L489.7 263.8L482.4 264.8ZM514.4 245.7L520.8 244.3L520.5 245.6L525.4 242.7L519.8 242.2L520.6 243.2L514.2 244.6ZM522.5 252.3L526.8 251.1L526.6 252.4L531.3 249.2L525.6 249.0L526.5 250.0L522.2 251.3ZM537.9 244.1L541.6 240.3L542.0 241.5L544.6 236.5L539.6 239.1L540.8 239.6L537.1 243.3ZM509.7 260.8L511.3 260.9L510.6 262.0L516.1 260.7L510.9 258.6L511.3 259.8L509.7 259.7ZM433.2 284.0L439.7 282.0L439.5 283.3L444.2 280.0L438.5 280.0L439.4 280.9L432.9 282.9ZM478.9 289.6L488.1 291.9L487.3 292.9L493.0 292.5L488.1 289.5L488.4 290.8L479.2 288.6ZM525.9 284.0L528.1 283.8L527.6 285.0L532.9 282.8L527.4 281.6L528.0 282.7L525.8 282.9ZM506.0 301.1L509.9 301.7L509.1 302.8L514.7 302.0L509.7 299.4L510.0 300.7L506.2 300.0ZM491.4 309.2L498.5 311.6L497.6 312.6L503.2 312.7L498.7 309.3L498.8 310.6L491.7 308.1ZM453.8 309.2L456.3 308.6L456.0 309.9L460.9 307.0L455.3 306.5L456.0 307.6L453.5 308.1ZM434.0 309.1L432.7 309.4L432.9 308.2L428.0 311.1L433.7 311.5L432.9 310.5L434.2 310.2ZM527.6 313.8L528.9 314.5L527.9 315.3L533.5 316.3L529.5 312.2L529.5 313.5L528.1 312.8ZM479.8 323.2L487.3 326.7L486.3 327.5L492.0 328.2L487.8 324.4L487.8 325.7L480.3 322.3ZM502.7 330.3L507.0 333.0L505.8 333.7L511.3 335.3L507.7 330.8L507.5 332.1L503.3 329.4ZM514.4 330.2L516.7 332.2L515.5 332.7L520.8 334.9L517.7 330.1L517.4 331.3L515.1 329.4ZM468.0 341.3L472.2 346.2L471.0 346.6L475.8 349.6L473.6 344.4L473.1 345.5L468.8 340.6ZM453.0 349.0L456.4 350.8L455.3 351.6L460.9 352.6L456.9 348.6L456.9 349.9L453.5 348.1ZM477.4 359.3L480.6 364.8L479.3 364.9L483.5 368.7L482.3 363.2L481.5 364.3L478.3 358.8ZM455.9 366.5L457.9 368.5L456.7 369.0L461.7 371.5L459.1 366.5L458.7 367.7L456.6 365.7ZM520.9 341.4L523.1 342.8L522.0 343.5L527.4 344.9L523.8 340.6L523.6 341.8L521.5 340.4ZM527.5 344.4L529.6 345.9L528.5 346.6L533.9 348.4L530.6 343.8L530.3 345.1L528.2 343.5ZM510.4 359.5L511.2 360.1L510.0 360.7L515.3 362.7L512.2 358.0L511.8 359.3L511.0 358.6ZM573.3 349.1L574.6 348.8L574.3 350.1L579.2 347.4L573.6 346.7L574.4 347.8L573.1 348.0ZM497.1 383.8L497.4 384.7L496.1 384.6L499.6 389.1L499.4 383.4L498.4 384.3L498.1 383.5ZM502.2 396.3L499.8 400.7L499.0 399.6L498.0 405.2L502.1 401.3L500.8 401.2L503.1 396.8ZM480.9 402.2L481.0 403.4L479.8 403.0L481.9 408.2L483.2 402.7L482.1 403.4L482.0 402.2ZM457.1 406.3L457.3 407.5L456.0 407.1L458.3 412.3L459.5 406.7L458.3 407.4L458.2 406.2ZM466.0 425.0L465.4 425.6L464.9 424.4L462.3 429.4L467.4 426.8L466.1 426.4L466.7 425.8ZM460.9 428.0L459.6 429.2L459.2 428.0L456.3 432.8L461.5 430.6L460.3 430.0L461.7 428.8ZM448.9 438.0L447.1 439.1L446.9 437.9L443.2 442.1L448.7 440.8L447.6 440.1L449.5 438.9ZM445.9 439.6L444.6 440.4L444.5 439.1L440.7 443.3L446.3 442.1L445.2 441.3L446.5 440.6ZM586.8 379.1L587.0 380.4L585.7 380.0L588.3 385.1L589.1 379.4L588.1 380.2L587.8 378.9ZM588.0 410.7L588.4 411.0L587.2 411.6L592.4 413.9L589.5 409.0L589.1 410.2L588.7 409.9ZM575.0 446.0L575.5 446.3L574.6 447.2L580.3 447.6L575.9 443.9L575.9 445.3L575.4 445.0ZM548.1 485.3L548.7 485.7L547.6 486.4L553.0 487.9L549.5 483.5L549.3 484.8L548.7 484.4ZM555.0 503.0L555.0 501.8L556.2 502.4L554.5 497.0L552.7 502.4L553.9 501.8L553.9 503.0ZM503.8 612.4L503.9 611.9L504.9 612.7L504.7 607.0L501.6 611.8L502.9 611.6L502.7 612.1ZM450.7 664.3L451.4 662.7L452.3 663.7L452.8 658.0L449.1 662.3L450.4 662.3L449.7 663.9ZM470.3 669.3L471.3 666.2L472.3 667.1L472.4 661.5L469.0 666.0L470.3 665.9L469.3 669.0ZM500.1 673.7L501.9 668.8L502.8 669.8L503.0 664.1L499.6 668.6L500.9 668.5L499.1 673.4ZM515.2 636.1L516.1 633.9L517.0 634.9L517.4 629.2L513.8 633.6L515.1 633.5L514.2 635.7ZM520.3 635.0L521.7 631.1L522.6 632.1L522.8 626.4L519.4 630.9L520.7 630.8L519.3 634.7ZM516.7 650.1L518.4 644.7L519.4 645.6L519.4 639.9L516.1 644.5L517.4 644.4L515.6 649.8ZM541.1 654.6L541.2 651.8L542.4 652.4L540.9 647.0L538.9 652.3L540.1 651.8L540.0 654.6ZM552.0 662.2L552.7 658.3L553.8 659.0L553.0 653.4L550.4 658.4L551.6 658.1L550.9 662.0ZM542.4 628.5L543.5 627.0L544.2 628.1L546.0 622.8L541.4 626.1L542.7 626.3L541.5 627.9ZM556.1 645.7L558.5 642.6L559.1 643.8L561.1 638.5L556.4 641.6L557.7 642.0L555.2 645.0ZM581.8 667.3L582.5 665.4L583.4 666.3L583.7 660.7L580.2 665.1L581.5 665.0L580.8 666.9ZM555.4 610.1L556.4 609.4L556.6 610.7L560.1 606.2L554.7 607.8L555.8 608.5L554.8 609.2ZM571.7 597.6L572.3 594.4L573.4 595.1L572.6 589.5L570.0 594.5L571.2 594.2L570.7 597.5ZM553.6 564.8L553.7 564.1L554.8 564.9L554.0 559.2L551.4 564.2L552.6 563.9L552.5 564.6ZM559.6 564.0L559.8 563.1L560.8 563.9L560.1 558.2L557.4 563.3L558.7 562.9L558.6 563.8ZM585.8 567.5L586.1 566.6L587.1 567.5L587.3 561.9L583.8 566.3L585.1 566.2L584.8 567.1ZM582.7 617.0L585.5 613.3L586.1 614.4L587.9 609.0L583.3 612.4L584.6 612.6L581.8 616.4ZM572.6 630.2L574.3 628.3L574.8 629.5L577.2 624.4L572.3 627.2L573.5 627.6L571.8 629.4ZM571.7 634.0L571.9 633.5L572.8 634.5L573.2 628.8L569.6 633.2L570.9 633.1L570.7 633.6Z"/></g>
<rect x="76.5" y="78.5" width="519.0" height="600.0" fill="none" stroke="#000" stroke-width="1.0"/>
<g class="tk"><line x1="71.1" y1="241.5" x2="76.0" y2="241.5"/><line x1="71.1" y1="460.5" x2="76.0" y2="460.5"/><line x1="71.1" y1="678.5" x2="76.0" y2="678.5"/><line x1="213.5" y1="679.0" x2="213.5" y2="683.8"/><line x1="431.5" y1="679.0" x2="431.5" y2="683.8"/></g>
<text class="yl" transform="translate(66.3 248.9) scale(0.95 1)">16°N</text><text class="yl" transform="translate(66.3 468.0) scale(0.95 1)">8°N</text><text class="yl" transform="translate(66.3 685.8) scale(0.95 1)">0°</text>
<text class="xl" transform="translate(213.0 702.8) scale(0.95 1)">98°E</text><text class="xl" transform="translate(431.4 702.8) scale(0.95 1)">106°E</text>
<rect x="40.0" y="770.5" width="592.0" height="29.899999999999977" fill="url(#cbg)"/>
<path d="M40.3 770.5L10.2 785.45L40.3 800.4Z" fill="#fff7ec"/>
<path d="M631.7 770.5L661.6 785.45L631.7 800.4Z" fill="#7f0000"/>
<path d="M40.0 770.5L632.0 770.5L661.6 785.45L632.0 800.4L40.0 800.4L10.2 785.45Z" fill="none" stroke="#000" stroke-width="1.1" stroke-linejoin="miter"/>
<g class="tk"><line x1="40.5" y1="800.9" x2="40.5" y2="805.6"/><line x1="188.5" y1="800.9" x2="188.5" y2="805.6"/><line x1="336.5" y1="800.9" x2="336.5" y2="805.6"/><line x1="484.5" y1="800.9" x2="484.5" y2="805.6"/><line x1="632.5" y1="800.9" x2="632.5" y2="805.6"/></g>
<text class="cl" transform="translate(39.6 821.8) scale(1.0 1)">0</text><text class="cl" transform="translate(187.6 821.8) scale(1.0 1)">10</text><text class="cl" transform="translate(335.6 821.8) scale(1.0 1)">20</text><text class="cl" transform="translate(483.6 821.8) scale(1.0 1)">30</text><text class="cl" transform="translate(631.6 821.8) scale(1.0 1)">40</text>
<text class="cb" transform="translate(707.0 786.7) scale(1.035 1)">CO_KOR (ppbv)</text>
</svg></body></html>
